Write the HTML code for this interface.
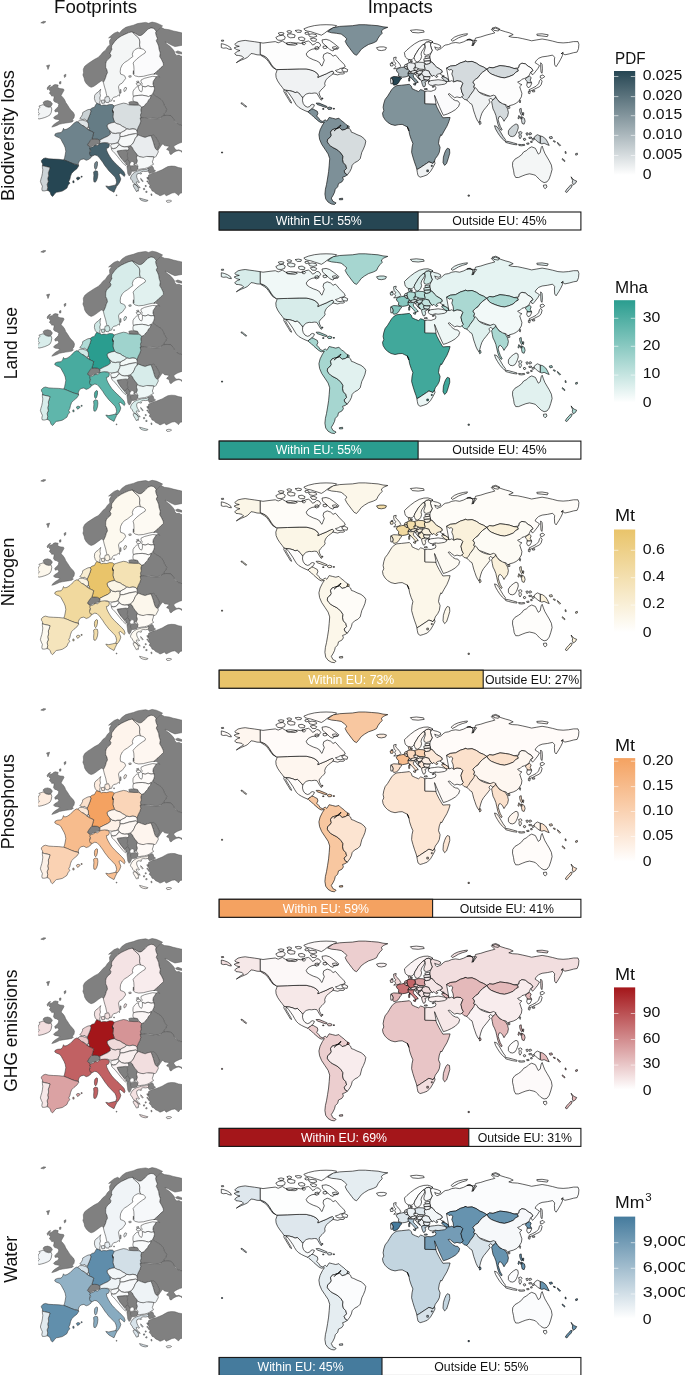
<!DOCTYPE html>
<html><head><meta charset="utf-8"><title>Footprints and impacts</title>
<style>
html,body{margin:0;padding:0;background:#fff;}
svg{display:block;font-family:"Liberation Sans",sans-serif;}
.g{fill:#808080;stroke:#555;stroke-width:.5;stroke-linejoin:round}
.c{stroke:#2c2c2c;stroke-width:.52;stroke-linejoin:round}
.w{stroke:#000;stroke-width:.62;stroke-linejoin:round}
.t{font-size:17.5px;fill:#111}
.lt{font-size:16px;fill:#111}
.tk{font-size:14.2px;fill:#111}
.bt{font-size:12.3px}
</style></head><body>
<svg width="685" height="1375" viewBox="0 0 685 1375">
<defs>
<clipPath id="ce"><rect x="38" y="20" width="144" height="184"/></clipPath>

<g id="eg" class="g">
<path d="M40.8,22.8 43.7,21.3 45.9,21.7 43.7,23.3Z"/>
<path d="M46.5,65.7 49.6,64.9 49.1,66.6 48.0,69.5 47.4,67.3Z"/>
<path d="M109.5,40.8 111.8,37.3 108.6,37.9 111.3,35.5 114.2,33.2 117.7,31.8 119.4,33.0 122.3,29.7 125.8,27.3 129.4,26.2 133.4,25.2 137.5,23.6 141.6,22.9 145.7,22.4 148.6,23.3 152.1,22.1 156.2,22.9 159.7,24.4 162.6,25.9 160.9,27.3 155.6,32.6 156.2,31.4 155.1,29.7 153.3,28.3 151.0,27.9 148.0,29.1 145.7,31.4 143.4,33.8 141.0,35.5 138.7,35.5 135.8,33.8 132.6,32.0 132.3,31.8 128.8,32.6 124.7,34.4 121.2,36.1 117.7,38.4 114.8,41.4 111.8,45.5 111.3,48.6 112.1,48.8 111.0,51.1 109.8,53.4 111.0,55.2 110.4,57.3 108.0,59.3 106.3,61.6 105.7,63.9 105.7,67.5 106.9,69.8 107.5,72.7 106.3,75.0 105.7,77.4 104.5,80.3 103.4,82.3 102.0,80.6 100.5,81.5 98.1,83.2 95.8,85.0 93.5,86.5 91.1,87.3 88.8,86.1 86.4,83.8 84.7,80.9 84.1,78.0 82.9,75.0 83.5,72.7 83.3,69.2 84.7,66.3 87.6,63.9 91.1,61.6 94.6,59.3 98.1,57.5 101.0,54.6 102.8,52.3 105.7,49.9 107.5,47.0 109.8,44.7Z"/>
<path d="M160.9,27.3 164.4,29.1 169.1,29.7 173.2,30.9 177.2,31.8 180.7,32.6 183.1,33.2 183.1,45.1 178.4,46.0 174.9,46.6 171.4,45.1 167.9,43.1 165.0,41.9 166.7,43.9 169.7,46.0 172.6,49.0 174.3,51.3 174.9,53.6 176.7,55.4 179.0,55.1 180.7,56.0 183.1,56.5 183.1,63.7 183.1,126.2 179.6,124.7 177.2,123.8 176.1,122.1 174.9,120.9 173.2,118.5 170.8,116.2 167.9,115.6 164.4,116.5 163.8,113.9 165.6,112.1 166.7,109.2 164.4,105.7 163.2,102.2 160.9,99.3 158.0,97.5 155.6,96.1 152.9,93.8 153.9,91.1 154.5,88.8 153.9,86.4 152.9,84.1 153.3,81.2 155.1,78.6 156.2,76.7 158.0,75.9 159.7,77.1 157.4,74.8 155.6,73.9 157.4,71.3 159.7,68.3 161.5,66.0 153.9,74.1 155.1,72.9 158.0,70.5 160.9,67.6 163.5,65.3 163.2,63.0 161.5,59.5 159.7,56.5 160.3,53.0 159.1,49.5 158.6,46.0 157.4,43.1 156.2,40.8 157.4,38.4 156.2,35.5 155.6,33.0 155.6,32.6ZM175.5,51.9 177.8,50.9 180.7,51.9 183.1,52.8 183.1,54.2 179.0,53.6 176.7,53.0ZM128.8,102.2 131.1,101.6 134.6,101.6 137.5,102.2 138.5,104.0 138.1,105.1 134.0,105.1 129.4,104.8Z"/>
<path d="M141.6,107.1 144.0,106.3 145.7,104.0 147.5,102.2 148.6,99.9 150.4,98.1 151.0,95.4 152.7,93.8 155.6,96.1 158.0,97.5 160.9,99.3 163.2,102.2 164.4,105.7 166.7,109.2 165.6,112.1 163.8,113.9 164.4,116.5 160.9,117.4 157.4,118.5 152.7,118.0 148.0,117.4 144.5,117.6 141.6,118.3 141.0,118.0 140.4,115.0 141.3,112.7 140.8,109.8Z"/>
<path d="M140.1,117.9 144.5,117.6 150.4,118.4 156.2,118.8 160.3,118.4 162.6,115.8 166.7,115.3 170.8,115.6 173.2,118.2 174.9,121.7 177.2,124.0 180.7,125.2 183.1,125.5 183.4,133.5 183.4,141.7 181.9,142.3 179.6,143.1 177.5,144.0 175.8,144.9 174.0,146.1 173.7,146.9 174.6,148.1 175.2,149.3 176.9,150.2 178.7,149.8 180.4,150.4 183.4,151.6 183.4,152.9 181.6,152.1 180.4,151.0 178.7,150.6 176.9,150.9 175.5,151.5 174.0,152.2 172.6,153.2 171.7,154.2 170.5,154.5 169.7,153.4 169.4,151.6 168.5,150.2 166.7,149.6 167.0,148.7 168.5,147.5 169.4,146.1 168.5,146.3 167.0,145.9 165.6,145.8 164.1,145.3 163.5,144.3 162.6,144.0 161.5,145.2 160.3,146.9 159.1,148.7 158.0,150.2 157.4,149.5 158.0,147.1 159.5,145.0 158.8,142.7 157.4,139.8 155.6,136.9 153.3,135.1 151.0,135.7 148.0,136.3 145.1,137.4 141.6,136.3 138.7,135.1 136.6,136.6 137.5,134.5 136.9,131.0 138.1,127.5 139.9,124.0 140.8,121.1Z"/>
<path d="M151.0,135.7 153.3,135.1 155.6,136.9 157.4,139.8 158.8,142.7 159.5,145.0 158.0,147.1 157.4,149.5 156.4,149.7 155.1,148.0 154.1,145.0 153.3,142.1 152.1,138.6Z"/>
<path d="M88.3,146.0 87.4,144.6 88.8,142.8 90.3,140.8 92.1,139.0 94.4,138.8 97.3,139.0 99.7,140.2 100.2,141.9 99.1,143.7 96.7,144.3 95.0,146.0 93.2,145.4 91.5,146.6 90.0,147.2Z"/>
<path d="M55.3,84.5 58.2,85.1 57.6,87.4 59.9,88.6 63.5,89.0 64.0,90.3 62.3,93.3 61.1,95.6 62.9,97.4 64.6,99.7 65.8,102.6 67.5,105.0 69.3,107.9 71.0,110.2 73.4,112.5 74.5,114.9 74.0,117.8 72.2,120.1 73.4,120.7 72.2,121.9 69.3,122.5 65.8,123.0 62.3,123.6 59.4,124.2 57.0,125.4 54.1,126.5 51.8,127.1 53.5,124.8 55.9,123.0 58.8,121.3 59.9,120.1 57.6,119.5 54.7,119.0 53.5,117.8 55.3,116.0 57.6,114.9 58.8,113.1 57.6,111.4 55.3,112.0 54.7,110.2 56.4,108.5 58.2,106.7 58.8,104.4 57.0,102.6 54.7,102.0 53.5,100.3 54.1,97.4 53.5,95.6 51.8,96.2 51.2,95.0 49.4,93.3 50.6,90.9 48.9,89.8 50.0,87.4 52.4,86.3 53.5,85.1ZM47.1,88.0 48.9,85.7 50.6,85.1 49.4,87.4 47.7,89.8ZM59.4,81.9 61.0,81.5 60.8,83.8 59.6,84.0ZM64.0,75.2 65.9,74.2 65.7,76.6 64.5,77.5ZM43.0,102.6 44.8,101.1 47.7,100.6 50.6,101.5 52.4,103.8 51.2,106.1 48.9,106.9 45.9,106.1 44.2,105.0Z"/>
<path d="M117.1,151.1 122.3,150.4 126.4,150.3 127.6,152.6 127.3,156.1 128.0,159.1 126.4,161.4 124.7,162.3 122.3,159.6 120.0,156.7 118.3,153.8Z"/>
<path d="M128.8,148.5 127.6,146.7 130.5,145.8 132.3,147.4 133.4,149.7 135.0,152.0 136.6,153.8 137.5,156.1 136.6,158.5 137.5,161.4 136.6,163.1 134.0,164.9 133.8,163.1 131.9,162.3 130.3,163.7 128.8,163.1 128.0,161.4 128.2,159.1 127.4,156.1 127.7,152.6 126.8,150.3 128.4,150.3Z"/>
<path d="M125.5,161.4 127.1,159.3 129.0,160.8 129.8,163.1 129.4,165.1 127.8,165.8 126.3,164.6Z"/>
<path d="M126.9,166.0 128.3,165.8 129.8,165.1 131.0,166.3 131.0,168.9 131.6,171.9 130.4,174.8 129.2,176.0 127.8,173.6 127.5,170.7 127.1,168.1Z"/>
<path d="M131.3,166.3 132.9,166.0 135.1,165.1 137.4,166.0 138.0,168.4 136.8,170.5 133.9,171.3 131.8,171.3 131.3,168.9Z"/>
<path d="M147.8,168.4 149.8,167.3 152.1,166.1 153.3,167.5 153.9,169.8 155.6,170.8 153.9,172.0 151.6,172.8 149.4,173.4 148.3,171.6 148.0,170.4ZM148.6,175.1 151.0,173.9 153.3,172.8 156.2,172.2 159.1,171.0 162.1,169.8 165.0,168.1 167.9,166.6 171.4,166.1 174.9,166.3 178.4,167.5 183.1,168.4 183.1,192.6 180.2,193.2 178.4,195.6 177.2,194.2 174.9,192.6 172.0,193.0 169.1,194.4 166.2,195.8 164.4,193.8 162.1,195.0 160.0,195.8 158.0,194.4 155.6,193.4 153.9,191.5 152.1,190.9 151.0,188.5 149.2,187.1 150.2,185.0 148.0,183.3 149.0,180.9 147.8,179.2 148.3,177.1Z"/>
</g>
<path id="eXK" d="M130.2,163.1 131.8,161.4 133.7,161.9 134.1,163.9 132.7,165.8 131.0,165.8 129.8,164.6Z"/>
<path id="eIE" d="M44.2,105.3 45.9,106.5 48.9,107.3 51.0,106.7 51.8,109.0 51.2,112.5 50.0,114.9 47.7,116.3 44.8,117.5 41.8,118.4 38.9,119.0 37.4,117.8 37.8,115.5 39.5,113.7 37.8,112.0 38.3,109.0 40.1,107.3 38.9,106.1 41.3,105.3 43.0,104.6Z"/>
<path id="eSE" d="M132.6,32.0 134.6,34.4 137.5,36.7 139.3,39.0 139.9,41.9 139.6,44.9 140.1,47.2 140.8,48.6 138.1,48.1 135.2,49.5 133.4,51.3 132.3,54.2 132.9,56.5 130.5,58.3 127.6,60.6 124.7,62.4 122.3,64.7 120.6,68.2 120.2,71.7 120.6,74.1 123.2,75.0 125.0,76.2 125.6,78.5 123.8,80.9 122.1,83.2 119.7,84.4 118.5,86.7 119.1,90.2 119.7,93.7 119.5,96.1 118.3,95.2 116.5,96.6 113.6,97.3 112.4,98.7 111.6,101.0 110.1,101.3 108.3,100.6 106.9,99.6 107.5,99.0 106.9,96.1 106.3,93.7 105.7,90.8 104.8,87.9 104.0,85.0 103.4,82.3 103.4,82.3 104.5,80.3 105.7,77.4 106.3,75.0 107.5,72.7 106.9,69.8 105.7,67.5 105.7,63.9 106.3,61.6 108.0,59.3 110.4,57.3 111.0,55.2 109.8,53.4 111.0,51.1 112.1,48.8 111.3,48.6 111.8,45.5 114.8,41.4 117.7,38.4 121.2,36.1 124.7,34.4 128.8,32.6 132.3,31.8ZM125.0,87.3 126.7,87.9 125.8,90.5 124.2,91.6 123.8,89.6ZM120.2,89.6 120.9,89.5 121.0,93.1 120.4,93.3Z"/>
<path id="eFI" d="M132.6,32.0 135.8,33.8 138.7,35.5 141.0,35.5 143.4,33.8 145.7,31.4 148.0,29.1 151.0,27.9 153.3,28.3 155.1,29.7 156.2,31.4 155.6,32.6 155.6,33.0 156.2,35.5 157.4,38.4 156.2,40.8 157.4,43.1 158.6,46.0 159.1,49.5 160.3,53.0 159.7,56.5 161.5,59.5 163.2,63.0 163.5,65.3 160.9,67.6 158.0,70.5 155.1,72.9 153.9,74.1 155.6,73.9 152.1,74.2 148.0,75.1 143.4,76.3 138.7,76.7 135.2,75.9 133.1,74.2 133.4,70.7 133.8,74.1 134.0,69.4 133.8,65.9 133.1,63.0 134.6,61.2 136.9,58.9 139.9,56.5 142.8,54.4 145.1,53.0 145.5,51.3 143.4,49.3 140.8,48.6 140.8,48.6 140.1,47.2 139.6,44.9 139.9,41.9 139.3,39.0 137.5,36.7 134.6,34.4 132.6,32.0ZM128.8,75.9 131.1,75.7 131.1,77.1 129.0,77.2Z"/>
<path id="eEE" d="M141.0,80.0 144.5,78.3 149.2,77.1 152.7,76.3 156.2,76.7 155.1,78.6 153.3,81.2 152.9,84.1 153.9,86.4 151.0,86.8 148.0,85.8 145.1,87.0 142.4,86.1 141.6,85.3 142.2,83.5 141.0,81.8ZM136.1,83.5 138.1,82.6 140.8,83.5 140.1,85.3 137.3,85.4ZM136.6,81.4 138.5,81.0 138.9,82.3 137.1,82.6Z"/>
<path id="eLV" d="M133.1,91.1 134.6,88.8 136.6,87.0 138.5,86.4 138.7,88.8 139.9,91.1 141.6,91.9 142.4,89.9 142.4,86.1 145.1,87.0 148.0,85.8 151.0,86.8 153.9,86.4 154.5,88.8 153.9,91.1 152.7,93.8 151.0,95.4 148.6,96.6 145.7,95.8 142.2,95.2 138.7,95.4 135.8,95.8 133.4,96.4 132.9,94.0Z"/>
<path id="eLT" d="M133.4,96.4 135.8,95.8 138.7,95.4 142.2,95.2 145.7,95.8 148.6,96.6 151.0,95.4 150.4,98.1 148.6,99.9 147.5,102.2 145.7,104.0 144.0,106.3 141.6,107.1 139.9,105.7 138.5,104.0 137.5,102.2 134.6,101.6 133.1,101.0 132.9,98.7Z"/>
<path id="ePL" d="M112.8,106.3 116.5,105.1 120.0,104.0 123.5,103.1 126.4,103.6 128.8,104.8 129.4,104.9 134.0,105.2 138.1,105.2 139.9,105.7 141.6,107.1 140.8,109.8 141.3,112.7 140.4,115.0 141.0,118.0 140.1,117.9 140.8,121.1 139.9,124.0 138.1,127.5 136.9,130.8 135.8,129.3 132.9,128.7 129.4,129.3 126.4,128.7 124.7,127.5 122.3,126.3 120.0,124.6 117.1,123.8 114.4,122.3 113.9,120.5 112.8,117.0 113.2,113.5 112.4,110.0 113.2,112.7 112.4,109.8Z"/>
<path id="eDE" d="M90.3,109.3 92.1,107.9 94.4,107.3 95.6,105.0 96.7,103.2 98.5,103.8 100.2,104.6 101.4,105.5 103.7,105.0 106.7,105.3 109.6,104.4 112.5,104.6 114.2,106.1 112.4,109.8 113.2,112.7 112.4,110.0 113.2,113.5 112.8,117.0 113.9,120.5 114.4,122.3 111.8,122.8 108.9,123.8 107.2,125.2 107.4,126.9 108.3,128.7 110.1,131.0 110.5,134.1 107.8,136.2 103.9,138.0 99.7,140.2 97.3,139.0 94.4,138.8 92.1,139.0 92.6,136.7 93.2,134.3 93.8,132.6 91.5,131.4 89.1,130.3 87.4,129.1 89.5,128.9 88.5,127.1 88.5,126.0 88.3,123.6 87.4,121.9 87.4,120.7 88.0,119.0 89.1,116.6 90.0,114.3 90.9,111.4Z"/>
<path id="eDK" d="M96.7,103.2 95.3,101.5 94.4,98.5 94.7,95.3 96.2,93.3 98.1,92.1 99.7,90.3 100.7,89.2 100.2,91.3 100.0,93.6 100.5,95.6 99.7,97.9 100.2,100.3 99.7,102.6 100.2,104.6 98.5,103.8ZM101.2,100.4 104.2,99.9 104.7,103.0 101.9,103.4ZM105.1,97.1 108.6,96.4 110.0,99.9 108.6,102.7 105.8,102.3 104.7,99.7ZM113.7,100.6 114.4,100.6 114.4,101.4 113.7,101.4Z"/>
<path id="eNL" d="M82.7,112.5 85.6,110.8 88.0,109.6 90.3,109.3 90.9,111.4 90.0,114.3 89.1,116.6 88.0,119.0 87.4,120.7 86.0,120.5 85.0,119.0 82.7,119.5 81.0,119.0 79.8,118.4 81.5,116.3 82.5,114.3Z"/>
<path id="eBE" d="M77.5,121.9 79.8,120.1 82.7,120.1 85.6,121.0 87.4,121.9 88.3,123.6 88.5,126.0 87.4,128.3 86.0,127.7 83.9,126.0 81.5,125.4 79.2,124.2Z"/>
<path id="eLU" d="M87.4,128.3 88.5,127.1 89.5,128.9 88.5,130.1Z"/>
<path id="eFR" d="M76.9,121.5 74.5,122.7 72.2,125.0 69.9,127.3 67.0,129.1 64.6,129.7 63.5,128.3 62.6,130.8 61.1,132.6 57.6,132.9 55.3,133.8 54.7,135.5 56.4,136.7 59.4,137.8 61.1,139.6 62.3,141.9 64.0,144.9 65.2,147.8 65.8,151.3 65.2,154.8 64.6,157.7 63.8,160.0 67.5,161.4 71.0,163.0 74.5,164.1 77.8,164.7 78.6,165.9 78.3,163.6 79.2,161.2 81.0,159.5 83.9,158.9 86.2,160.3 88.5,159.5 90.9,157.7 91.8,156.0 90.3,153.6 89.7,151.3 90.9,149.3 90.0,147.2 88.3,146.0 87.4,144.9 88.5,143.1 90.0,140.8 91.8,138.8 92.6,136.7 93.2,134.3 93.8,132.6 91.5,131.4 89.1,130.3 87.4,129.1 85.6,127.9 83.9,126.2 81.5,125.0 79.8,123.3 78.0,122.1ZM94.8,163.1 96.3,161.4 97.5,161.9 97.5,164.9 96.7,168.1 95.6,169.5 94.6,168.1 94.4,165.4Z"/>
<path id="eAT" d="M110.1,131.3 112.4,133.0 115.3,133.6 117.7,133.0 120.6,133.0 120.0,134.8 120.2,136.6 119.8,138.6 118.6,140.6 117.7,142.5 115.3,143.3 112.4,143.9 109.5,143.6 107.2,142.7 99.1,143.7 100.2,141.9 99.7,140.2 103.9,138.0 107.8,136.2 110.5,134.1Z"/>
<path id="eCZ" d="M107.2,125.2 108.9,123.8 111.8,122.8 114.4,122.3 117.1,123.8 120.0,124.6 122.3,126.3 124.7,127.5 126.4,128.7 125.3,130.4 122.9,131.6 120.6,132.8 117.7,132.8 115.3,133.4 112.4,132.8 110.1,131.0 108.3,128.7 107.4,126.9Z"/>
<path id="eSK" d="M120.6,132.8 122.9,131.6 125.3,130.4 126.8,128.9 129.4,129.4 132.9,128.9 135.8,129.4 136.9,131.0 137.5,134.5 135.8,133.6 132.9,133.9 129.4,134.5 126.4,135.5 123.5,136.3 120.2,136.6 120.0,134.5Z"/>
<path id="eHU" d="M120.2,136.6 123.5,136.5 126.4,135.7 129.4,134.8 132.9,134.2 135.8,133.6 137.5,134.5 136.6,136.6 135.2,138.6 134.0,141.5 132.6,143.9 130.5,145.6 127.6,146.4 124.7,146.8 121.8,146.2 119.4,144.4 118.3,142.7 118.8,140.6 119.8,138.6Z"/>
<path id="eSI" d="M111.8,144.1 115.3,143.5 117.7,142.9 118.8,144.4 117.7,146.4 115.9,148.0 113.6,148.5 111.3,148.0 110.7,145.6Z"/>
<path id="eHR" d="M111.3,148.3 113.6,148.8 115.9,148.2 117.9,146.4 119.4,144.8 121.8,146.4 124.7,147.0 127.6,146.7 128.8,148.5 128.2,150.3 125.8,149.9 122.3,150.3 119.4,150.6 117.1,151.1 118.3,153.8 120.0,156.7 122.3,159.6 124.7,162.6 126.4,164.9 125.3,165.5 122.9,163.1 120.0,159.6 117.7,156.7 115.3,153.8 113.2,151.5 111.8,150.3Z"/>
<path id="eRO" d="M136.6,136.6 138.7,135.1 141.6,136.3 145.1,137.4 148.0,136.3 151.0,135.7 152.1,138.6 153.3,142.1 154.1,145.0 155.1,148.0 156.4,149.7 158.0,150.3 158.3,152.0 157.4,153.8 156.2,156.1 155.1,157.3 152.1,156.7 148.6,156.5 145.1,157.7 141.6,157.3 138.7,156.5 137.3,155.0 136.6,153.8 135.0,152.0 133.4,149.7 132.3,147.4 130.5,145.8 132.6,143.9 134.0,141.5 135.2,138.6Z"/>
<path id="eBG" d="M137.4,155.5 139.7,156.7 143.2,157.3 146.7,156.4 150.2,156.7 153.7,156.9 153.2,159.6 152.3,161.9 153.5,164.3 151.4,165.4 149.1,167.0 147.3,167.8 144.4,168.6 141.5,168.9 138.6,169.5 137.6,168.1 138.0,166.0 136.4,163.7 137.4,160.8 136.4,157.8Z"/>
<path id="eGR" d="M130.4,178.0 131.5,175.5 132.9,173.7 134.8,172.2 136.9,171.1 139.5,170.4 141.7,169.7 144.2,169.5 146.8,169.3 148.3,168.2 148.8,169.7 147.9,171.1 145.7,171.5 143.5,171.3 141.7,171.8 140.6,172.6 141.7,173.7 140.2,174.0 139.1,173.3 138.0,173.7 136.9,174.4 136.6,175.8 136.9,177.7 137.7,179.5 138.6,181.0 139.5,182.4 138.4,182.6 137.3,181.7 136.2,182.1 136.9,183.9 138.0,185.3 139.1,186.4 140.2,187.9 138.8,187.5 137.3,186.4 136.2,185.3 135.3,184.2 134.0,183.5 132.9,182.4 132.2,180.6 131.1,179.5ZM133.3,184.6 135.1,184.4 136.9,185.6 138.0,187.2 138.6,189.4 138.3,191.2 137.5,190.4 136.9,191.9 136.2,191.2 135.3,189.5 134.2,187.8 133.3,186.1ZM139.5,198.1 141.3,198.5 143.5,199.2 146.1,199.9 147.9,200.3 147.5,201.0 145.3,201.4 142.8,200.9 140.6,199.9ZM140.6,178.4 141.9,179.5 143.2,181.3 142.4,181.6 141.2,180.2ZM151.0,193.8 151.9,194.2 151.8,195.6 151.1,195.3ZM146.9,177.4 148.3,177.6 148.0,178.7 147.0,178.5ZM146.9,180.9 147.7,180.9 147.7,182.1 147.0,182.0ZM143.4,188.5 144.5,188.3 144.8,189.5 143.6,189.7ZM145.1,185.6 146.1,185.4 146.3,186.4 145.4,186.7ZM145.7,191.5 146.9,191.1 147.1,192.3 145.9,192.5Z"/>
<path id="eCY" d="M166.2,200.9 168.0,200.2 170.5,200.3 171.6,201.0 169.8,202.1 167.2,202.3Z"/>
<path id="eIT" d="M90.1,155.5 89.5,153.2 90.7,150.8 89.5,148.5 91.3,147.3 93.0,146.8 95.3,145.2 97.7,145.6 99.4,143.8 101.8,142.9 104.7,142.7 107.6,143.3 109.4,144.4 109.1,146.4 108.2,147.9 106.4,148.3 106.8,150.8 108.2,153.8 109.9,156.7 111.9,159.6 114.6,162.5 117.0,164.9 119.3,167.0 121.6,169.3 124.0,171.9 125.1,174.8 124.3,176.5 122.4,174.8 120.5,173.3 118.9,174.2 119.9,176.5 120.8,178.9 119.9,181.8 118.5,184.1 117.0,185.9 115.8,184.7 116.6,182.2 116.1,179.5 115.0,177.1 113.1,175.1 111.1,173.0 108.8,170.7 106.8,168.1 104.7,165.4 102.9,162.5 101.2,160.2 99.4,157.8 97.1,155.5 94.8,154.9 92.4,156.1ZM105.8,185.9 108.8,186.5 112.3,185.7 115.8,184.9 116.6,186.5 115.2,189.4 114.0,192.3 111.7,191.1 108.8,189.4 107.0,187.6ZM93.6,171.9 95.3,170.7 97.5,171.3 97.9,174.2 97.5,177.7 96.5,180.6 95.3,182.2 93.9,181.8 93.6,178.9 93.9,175.4Z"/>
<path id="eES" d="M41.3,160.7 43.0,158.8 45.3,157.9 48.9,158.8 53.5,159.1 58.8,159.3 63.8,159.9 67.5,161.3 71.0,162.8 74.5,164.2 77.5,164.9 78.6,166.1 76.9,168.7 74.0,171.0 71.6,173.4 70.5,176.3 69.9,179.2 68.7,181.5 69.9,183.3 68.1,185.0 67.0,188.0 64.6,189.7 62.3,191.1 59.4,191.8 56.4,192.3 54.7,193.8 53.3,195.8 52.4,196.5 51.0,195.0 50.2,192.6 48.9,190.9 47.1,190.3 47.7,187.4 47.1,184.4 48.3,181.5 47.7,178.6 48.6,175.7 48.3,172.8 49.4,169.8 50.0,167.5 47.7,166.9 44.8,166.3 42.8,165.8 42.4,163.4 41.6,162.3ZM76.3,178.0 78.0,176.9 80.2,177.8 79.2,179.2 77.5,180.1ZM81.0,176.3 82.1,176.2 82.2,177.1 81.1,177.2ZM72.8,180.9 74.0,180.8 74.1,182.7 72.9,182.7Z"/>
<path id="ePT" d="M42.4,165.2 42.8,165.8 44.8,166.3 47.7,166.9 50.0,167.5 49.4,169.8 48.3,172.8 48.6,175.7 47.7,178.6 48.3,181.5 47.1,184.4 47.7,187.4 47.1,190.3 44.8,190.9 42.4,190.9 41.8,189.1 42.4,186.2 41.3,183.9 40.4,181.5 40.9,179.2 41.8,176.3 42.4,173.4 42.8,169.8 42.4,167.5Z"/>
<path id="eMT" d="M116.1,195.0 116.8,194.8 117.0,195.6 116.2,195.7Z"/>
<path id="wUS" d="M234.7,44.3 238.0,41.7 241.9,40.8 245.2,40.4 249.2,41.0 254.4,41.7 260.3,42.6 260.3,54.4 263.0,55.5 265.6,56.8 267.6,58.8 269.5,61.4 271.5,64.7 273.5,67.3 276.1,69.3 272.8,67.6 270.8,64.9 268.6,61.8 266.5,59.1 264.3,57.5 260.3,55.0 257.0,54.8 253.8,53.9 251.1,53.5 249.4,55.5 247.2,57.5 244.6,58.8 241.3,60.1 238.7,61.4 236.3,62.7 240.6,59.4 243.6,57.8 241.9,56.1 238.7,55.5 236.0,55.2 234.7,53.5 237.3,51.5 240.0,50.5 236.7,49.6 234.1,47.9 236.7,46.9 239.3,46.3 236.0,45.6ZM277.0,69.6 287.5,69.3 299.2,68.9 306.2,68.9 310.3,69.8 313.8,71.0 316.7,72.8 318.5,75.1 317.9,77.4 320.2,76.3 323.1,75.1 326.1,73.9 329.0,72.4 330.7,71.6 332.5,71.0 333.6,72.2 333.1,73.9 330.7,75.7 328.4,77.4 326.6,79.2 325.5,80.9 324.7,83.3 325.1,85.6 323.7,87.4 322.0,89.1 320.2,90.9 319.1,92.6 319.6,95.0 320.8,97.3 322.0,99.6 321.1,100.2 319.6,97.9 317.9,95.0 316.7,93.2 314.4,93.0 311.5,93.4 309.1,93.2 306.2,94.1 304.4,95.5 303.3,97.3 302.7,97.9 301.5,96.1 299.2,93.8 297.4,92.0 295.1,92.6 292.8,91.5 289.3,90.6 285.8,90.3 284.0,89.9 282.3,87.4 279.9,84.4 277.6,80.9 276.1,77.4 275.8,73.9 276.8,71.0ZM241.2,102.8 242.6,103.2 244.2,104.6 246.6,106.4 246.2,107.2 243.8,105.6 242.2,104.2 241.0,103.6Z"/>
<path id="wCA" d="M260.3,42.6 263.0,43.1 270.0,42.2 275.3,41.6 278.2,42.8 282.3,41.0 285.2,42.8 288.7,44.5 293.4,43.9 297.4,42.8 300.9,43.4 303.9,42.8 305.6,41.6 308.5,41.0 310.9,42.8 312.6,45.1 315.0,43.9 316.7,42.2 319.1,42.8 320.8,45.1 319.1,47.5 316.1,48.6 312.0,49.2 308.5,51.0 306.2,53.9 307.1,56.2 309.7,58.0 313.2,59.7 316.7,60.9 319.6,62.6 320.8,65.0 322.0,66.1 323.1,63.2 324.3,60.3 323.1,57.4 323.7,54.5 327.2,52.7 330.7,53.9 333.1,56.2 335.4,55.0 337.1,56.8 339.5,59.7 341.8,62.0 344.2,64.4 345.3,66.7 343.0,67.9 340.1,68.5 338.3,69.6 335.4,70.5 337.1,72.0 340.1,72.5 342.4,72.0 344.7,72.8 343.6,74.0 340.1,74.0 337.7,74.9 333.1,73.9 333.6,72.2 332.5,71.0 330.7,71.6 329.0,72.4 326.1,73.9 323.1,75.1 320.2,76.3 317.9,77.4 318.5,75.1 316.7,72.8 313.8,71.0 310.3,69.8 306.2,68.9 299.2,68.9 287.5,69.3 277.0,69.6 276.1,69.3 273.5,67.3 271.5,64.7 269.5,61.4 267.6,58.8 265.6,56.8 263.0,55.5 260.3,54.4ZM341.8,68.8 344.7,68.1 347.7,69.6 347.1,72.0 344.2,71.6 342.4,70.8ZM322.0,39.9 326.1,39.3 329.6,40.4 333.1,42.8 336.0,45.1 338.9,47.5 337.7,49.2 334.8,48.6 333.1,51.0 330.1,49.8 327.8,47.5 324.9,45.1 322.6,42.8ZM303.9,28.8 308.5,27.0 314.4,25.6 320.2,24.9 326.1,24.7 331.9,24.9 336.6,25.6 334.8,27.6 330.7,28.8 327.2,31.1 324.3,33.4 321.4,35.2 317.9,34.0 314.4,32.9 310.9,31.7 307.4,31.1 305.0,30.3ZM275.8,37.5 278.8,35.8 282.9,35.2 285.2,36.9 284.6,39.3 281.1,40.4 277.6,40.1ZM278.2,33.1 281.1,32.4 284.0,33.1 283.4,34.6 279.9,35.0ZM286.9,31.2 289.3,30.5 291.6,31.4 291.0,32.9 288.1,32.9ZM295.1,30.5 298.6,30.0 301.5,30.7 300.9,32.3 297.4,32.4ZM287.5,34.2 291.0,33.8 295.1,35.0 294.5,37.5 290.4,37.8 287.8,36.6ZM298.6,37.5 302.1,37.0 305.0,38.5 304.4,40.4 300.6,40.5 298.7,39.4ZM302.1,42.2 304.4,42.0 305.6,43.4 304.4,44.8 302.5,44.3ZM286.4,42.9 290.4,42.4 295.1,42.9 297.4,44.1 295.1,45.2 290.4,45.0 286.9,44.5ZM308.5,34.6 312.0,33.8 316.1,34.6 316.7,36.4 313.2,37.3 309.7,36.6ZM310.3,38.7 313.8,38.1 316.7,39.3 315.6,41.3 312.0,41.0ZM315.0,47.1 317.9,46.6 319.1,48.6 316.7,49.8 315.0,49.0ZM323.1,46.3 326.1,45.9 327.2,47.8 324.9,48.7 323.1,48.0ZM332.5,47.1 335.4,46.6 337.7,48.0 335.4,49.4 333.1,49.0ZM305.0,32.6 308.0,32.1 309.1,33.5 306.8,34.5 305.0,33.8Z"/>
<path id="wMX" d="M302.7,97.9 302.5,100.8 303.3,103.7 305.0,106.0 307.4,107.2 309.7,106.6 310.9,104.9 312.6,104.3 314.4,104.9 313.8,106.6 312.6,108.2 311.5,109.0 310.3,110.1 309.1,110.7 308.0,111.9 305.0,110.7 301.5,109.0 298.6,107.2 296.3,104.9 294.5,102.0 292.8,99.0 290.8,96.1 288.7,93.2 286.4,90.6 285.8,92.6 287.5,95.5 289.3,98.5 291.0,101.4 291.6,103.1 290.4,102.5 288.7,99.6 286.9,96.7 285.2,93.8 283.8,91.5 284.0,89.9 285.8,90.3 289.3,90.6 292.8,91.5 295.1,92.6 297.4,92.0 299.2,93.8 301.5,96.1Z"/>
<path id="wWL" d="M308.0,111.9 309.1,110.7 310.3,110.1 311.5,109.0 313.2,109.0 315.0,110.1 317.3,111.3 317.9,113.6 316.7,116.0 318.8,118.2 320.4,120.6 322.8,121.4 325.2,119.8 326.8,121.1 329.2,117.4 332.4,118.2 335.7,119.0 338.9,118.2 341.3,120.6 343.7,122.2 346.1,124.6 347.7,125.6 347.2,128.1 345.3,129.4 342.1,130.2 339.7,127.8 336.5,128.6 334.1,131.0 340.9,125.0 340.1,126.6 337.7,128.2 334.5,129.0 332.1,129.8 330.5,132.2 331.3,135.4 329.7,137.8 327.6,139.4 327.3,141.9 328.9,144.3 330.5,145.9 332.9,147.5 336.1,149.1 338.5,150.7 340.9,153.1 343.0,156.3 342.6,159.5 343.4,162.7 345.8,165.2 346.6,168.4 344.2,170.8 345.0,173.2 347.4,174.8 345.0,176.4 342.6,177.2 343.4,179.6 341.8,182.0 338.5,183.6 337.7,186.8 335.3,189.2 334.5,192.4 332.9,195.7 331.3,198.1 332.9,201.3 336.1,202.9 334.5,204.5 331.3,204.0 328.1,202.1 325.7,198.9 324.9,194.1 325.4,189.2 326.5,184.4 327.6,178.0 328.6,171.6 329.2,165.2 329.7,158.7 328.1,153.9 324.9,149.1 321.7,144.3 319.6,139.4 318.9,134.6 320.1,129.8 322.5,125.0 324.4,122.2 321.2,122.7 318.8,121.4 313.8,117.1 311.5,114.8 309.1,113.0ZM327.6,31.6 333.2,27.6 339.6,26.4 346.0,26.0 352.4,25.7 358.9,24.7 365.3,24.7 371.7,25.2 378.1,25.7 383.0,26.8 387.8,27.3 383.8,28.9 381.4,30.9 382.2,33.3 379.8,35.7 378.1,38.1 376.5,41.3 373.3,42.9 368.5,44.5 364.5,46.9 361.3,49.3 358.9,52.5 356.5,55.3 354.1,54.1 351.6,50.9 349.2,47.7 346.8,44.5 345.2,41.3 346.8,38.9 344.4,36.5 341.2,34.1 336.4,33.3 331.6,32.8ZM316.1,103.1 319.1,103.1 322.0,104.3 324.9,105.5 327.2,106.6 326.1,107.5 323.1,106.6 320.2,105.5 317.3,104.6ZM327.2,107.8 329.6,107.0 331.9,107.8 331.3,109.3 328.4,109.5ZM322.6,108.6 324.0,108.6 324.0,109.3 322.6,109.3ZM333.1,108.4 334.5,108.4 334.5,109.1 333.1,109.1ZM322.0,97.9 322.9,98.1 322.8,99.0 322.1,98.8ZM339.3,198.6 342.6,198.2 342.7,199.7 339.5,199.8Z"/>
<path id="wBR" d="M347.4,174.8 345.0,173.2 344.2,170.8 346.6,168.4 345.8,165.2 343.4,162.7 342.6,159.5 343.0,156.3 340.9,153.1 338.5,150.7 336.1,149.1 332.9,147.5 330.5,145.9 328.9,144.3 327.3,141.9 327.6,139.4 329.7,137.8 331.3,135.4 330.5,132.2 332.1,129.8 334.5,129.0 337.7,128.2 340.1,126.6 340.9,125.0 334.1,131.0 336.5,128.6 339.7,127.8 342.1,130.2 345.3,129.4 347.2,128.1 348.8,128.1 350.6,129.8 351.4,132.2 353.8,133.0 357.0,134.6 361.0,136.2 364.2,138.7 365.8,141.1 365.0,145.1 363.4,149.1 361.8,152.3 361.0,155.5 360.2,158.7 357.8,161.1 354.6,162.7 352.2,165.2 351.4,168.4 349.8,171.6Z"/>
<path id="wGF" d="M347.7,125.6 349.3,126.5 348.8,128.1 347.2,128.1Z"/>
<path id="wWF" d="M394.3,86.9 396.9,85.6 401.5,85.2 406.1,84.7 409.4,84.3 411.4,86.3 412.0,88.6 415.3,90.2 418.6,91.5 420.6,89.6 422.6,90.2 424.9,91.5 424.9,103.4 435.4,103.4 437.0,107.3 439.0,111.2 440.9,114.5 442.9,117.8 446.9,117.5 450.1,117.5 448.8,121.8 446.9,126.3 444.2,130.9 441.6,135.6 440.9,134.6 439.3,138.6 438.5,143.4 440.1,147.4 439.3,152.3 437.7,155.5 435.3,158.7 434.5,161.1 432.9,163.5 431.3,162.7 428.9,161.9 426.5,163.5 424.1,165.1 421.7,166.7 419.3,168.3 416.9,169.6 416.1,166.7 414.4,161.9 412.9,157.1 411.6,152.3 412.0,147.4 412.9,143.4 411.2,139.4 409.6,134.6 408.8,129.8 407.2,126.6 408.8,130.9 407.4,127.0 404.8,125.7 402.2,124.4 398.9,124.6 395.0,125.4 391.0,124.4 387.7,122.4 385.1,119.8 383.1,116.5 382.5,113.2 383.8,110.6 383.1,107.3 383.8,103.4 385.1,99.4 387.7,96.1 389.7,92.8 391.7,89.6ZM447.4,148.2 449.5,149.1 449.8,153.1 448.2,158.7 446.6,163.5 444.6,165.4 443.0,162.7 443.4,157.1 444.6,153.1 445.8,150.3Z"/>
<path id="wZA" d="M416.9,169.6 419.3,168.3 421.7,166.7 424.1,165.1 426.5,163.5 428.9,161.9 431.3,162.7 432.9,163.5 434.5,161.1 435.0,163.5 432.9,167.5 430.5,171.5 427.3,174.8 423.3,176.3 420.1,177.2 418.0,175.6 417.3,172.3Z"/>
<path id="wLS" d="M426.8,169.9 428.4,169.9 428.4,171.7 426.8,171.7ZM431.3,165.3 432.3,165.3 432.3,166.4 431.3,166.4Z"/>
<path id="wWM" d="M424.9,91.5 427.8,91.0 431.1,91.3 433.3,90.5 435.3,89.8 436.0,87.8 434.7,85.8 436.2,84.1 445.8,81.9 447.8,81.0 449.8,81.5 451.8,80.6 453.7,81.9 457.0,80.6 460.9,81.2 462.9,83.2 461.0,88.0 461.8,92.0 463.4,95.3 461.8,96.9 460.2,97.7 457.0,96.9 454.6,97.7 451.4,95.3 449.8,93.7 448.2,94.1 450.6,96.9 453.0,99.3 455.4,100.6 457.8,100.9 459.7,103.3 458.6,106.5 455.4,109.7 451.4,112.1 447.4,114.0 443.4,115.3 441.8,112.1 439.3,106.5 436.9,100.9 434.5,95.3 436.1,104.1 424.9,103.8 424.9,92.0Z"/>
<path id="wTR" d="M428.4,81.8 430.8,80.6 434.6,80.2 438.1,79.7 441.7,80.2 445.3,81.0 446.8,82.8 444.5,84.2 441.2,84.7 438.1,85.1 435.3,84.7 432.5,85.5 429.8,85.1 428.4,83.6ZM427.7,80.3 429.1,79.7 429.6,81.2 428.1,81.4Z"/>
<path id="wRU" d="M432.0,42.2 433.8,43.3 437.3,44.1 440.4,45.5 440.8,47.2 438.6,48.1 436.0,47.6 434.7,46.8 435.6,49.0 436.9,50.3 439.1,49.4 441.2,48.5 443.2,46.4 445.2,45.1 448.5,44.5 451.8,43.1 455.7,42.5 459.6,43.1 463.6,41.8 466.2,40.5 468.8,39.2 471.5,39.9 474.1,42.5 473.0,45.8 474.8,43.1 476.7,40.5 466.8,39.9 470.3,39.0 472.9,41.6 472.0,46.0 474.1,42.5 475.5,38.1 480.8,36.9 486.0,35.2 491.3,33.8 494.8,32.9 491.3,29.4 495.7,28.1 500.9,30.3 505.3,31.7 509.7,32.9 513.2,34.6 508.8,36.4 512.3,37.3 517.6,37.6 522.8,38.7 528.1,39.9 531.6,40.8 536.8,39.9 542.1,39.0 547.3,39.9 552.6,41.1 557.9,42.5 563.1,42.9 568.4,42.5 573.6,41.6 578.0,41.6 578.9,44.3 578.5,48.6 577.1,52.1 573.6,52.7 569.2,53.9 564.9,54.8 562.2,53.0 561.0,53.9 563.1,52.1 562.4,55.7 560.7,59.2 558.7,62.7 556.1,66.7 554.7,64.9 554.4,60.0 554.7,57.4 552.6,55.1 547.3,56.2 542.1,56.9 538.6,58.3 536.0,60.9 535.1,62.7 537.7,64.4 539.5,65.6 537.7,68.8 536.0,70.9 534.2,73.2 532.5,74.9 530.7,72.0 533.0,70.5 531.2,67.9 528.1,66.2 525.4,63.9 521.9,63.2 519.3,64.9 519.0,67.0 517.6,67.9 514.0,68.5 509.7,67.0 505.3,66.2 500.0,65.6 496.5,66.7 493.0,67.9 489.5,67.4 486.9,69.2 483.4,67.0 479.9,65.6 476.4,63.2 472.0,61.4 467.6,61.8 465.0,60.9 464.9,61.5 460.3,62.9 455.7,65.5 450.4,66.1 446.5,68.1 448.9,81.1 447.8,79.0 445.3,77.5 442.2,76.5 444.3,76.0 441.2,74.9 440.0,73.6 442.2,72.2 441.7,70.3 439.4,68.8 436.6,67.1 434.6,65.2 433.0,63.0 430.8,61.7 430.5,60.6 429.8,57.9 430.0,55.5 431.0,53.0 432.2,50.4 431.2,47.9 430.5,45.3 430.8,43.0 433.0,41.9ZM451.1,39.9 454.4,37.2 458.3,35.5 463.6,34.2 467.5,33.7 466.9,35.0 462.3,36.3 458.3,37.9 455.0,39.9 452.4,41.2ZM540.7,62.7 542.1,64.4 542.4,68.8 542.1,73.2 541.0,72.3 540.7,67.0ZM221.3,43.6 224.2,44.3 227.5,45.6 230.5,47.6 231.4,49.6 228.8,49.2 226.2,47.9 223.5,48.2 221.3,47.6ZM492.1,28.1 495.7,27.1 499.7,28.9 498.3,31.0 493.9,30.3ZM536.8,34.1 542.1,33.8 548.2,34.8 547.3,36.6 541.2,35.9 537.2,35.5ZM221.4,40.2 223.5,40.1 223.7,41.1 221.6,41.3ZM427.2,61.5 429.0,61.3 429.1,62.4 427.5,62.5Z"/>
<path id="wWE" d="M425.1,63.7 426.4,64.2 429.8,63.4 430.8,61.7 433.0,63.0 434.6,65.2 436.6,67.1 439.4,68.8 441.7,70.3 442.2,72.2 440.0,73.6 437.6,74.2 436.1,75.5 437.9,76.3 436.9,77.5 435.3,76.7 433.9,75.2 432.0,76.5 431.5,75.2 430.0,73.9 428.9,71.1 425.7,70.1 424.6,69.8 424.9,68.3 424.3,65.8ZM418.2,75.5 419.9,75.5 420.8,74.2 421.8,73.6 422.4,74.6 423.8,76.3 423.8,78.3 424.9,79.8 423.0,80.2 421.6,81.1 420.6,80.0 419.2,78.0 418.3,77.0Z"/>
<path id="wIS" d="M376.5,47.7 379.8,46.9 383.8,46.9 386.5,47.7 385.4,49.8 381.4,50.6 378.1,50.1Z"/>
<path id="wNO" d="M404.9,55.5 404.4,52.5 407.0,49.9 410.6,46.8 414.6,43.8 419.2,41.2 423.8,39.9 427.9,39.7 431.0,40.7 433.0,41.9 431.0,42.8 428.9,41.7 426.4,42.2 424.3,43.8 422.3,45.3 420.2,47.4 418.2,49.9 416.7,52.5 415.1,55.0 414.1,57.6 412.1,59.6 409.5,59.9 407.0,58.6 405.4,57.1ZM410.4,30.3 416.3,29.7 423.5,30.5 424.2,32.1 418.2,32.9 412.3,32.4Z"/>
<path id="wGB" d="M393.7,57.6 396.2,57.1 395.7,59.6 397.8,61.7 399.8,64.2 400.8,66.3 399.3,67.8 396.2,68.5 393.7,68.8 395.7,66.8 394.7,65.2 395.7,63.2 394.2,61.7 393.7,59.6ZM391.3,62.4 392.8,62.2 393.0,63.4 391.7,63.7Z"/>
<path id="wCH" d="M408.0,71.6 410.6,71.4 411.1,72.6 408.7,73.2Z"/>
<path id="wSE" d="M414.1,57.6 415.1,55.0 416.7,52.5 418.2,49.9 420.2,47.4 422.3,45.3 424.3,44.0 424.9,46.3 423.6,48.9 421.8,51.4 421.0,54.0 421.6,56.5 420.8,59.1 419.2,61.1 417.2,62.0 415.4,61.1 414.6,59.3Z"/>
<path id="wFI" d="M424.6,44.0 426.4,42.3 428.9,41.9 430.8,43.0 430.5,45.3 431.2,47.9 432.2,50.4 431.0,53.0 428.9,54.5 426.4,55.2 424.3,54.5 423.8,52.5 424.6,49.9 425.4,47.4 425.1,45.3Z"/>
<path id="wEE" d="M424.9,56.5 429.4,55.8 429.8,57.9 425.4,58.6Z"/>
<path id="wLV" d="M423.8,58.9 425.4,58.6 429.8,58.1 430.5,60.6 426.9,60.9 424.0,61.1Z"/>
<path id="wLT" d="M424.0,61.4 427.1,61.1 430.5,60.9 429.8,63.4 426.4,64.2 424.3,63.2Z"/>
<path id="wPL" d="M414.8,63.0 418.7,62.2 423.0,62.4 425.1,63.7 424.3,65.8 424.9,68.3 423.6,69.8 420.8,69.5 417.7,69.1 415.4,67.8Z"/>
<path id="wDE" d="M407.0,63.7 409.5,62.7 412.1,63.0 414.6,63.4 415.4,65.8 414.4,68.1 415.4,69.8 413.1,71.4 410.6,71.6 408.5,70.3 407.5,68.1 406.8,66.0Z"/>
<path id="wDK" d="M408.3,60.1 410.0,59.3 410.6,61.7 409.3,63.0ZM411.0,60.9 412.2,60.7 412.2,62.2 411.1,62.3Z"/>
<path id="wNL" d="M404.9,64.7 406.8,64.0 407.1,66.0 405.9,66.8 404.4,66.3Z"/>
<path id="wBE" d="M403.9,66.8 405.9,66.8 407.3,66.8 407.7,68.8 405.9,69.1 404.4,68.1Z"/>
<path id="wIE" d="M390.1,63.7 391.9,63.2 393.4,64.4 392.7,66.0 390.6,66.0Z"/>
<path id="wFR" d="M396.2,69.8 398.8,68.1 401.4,67.5 403.9,67.1 405.9,69.1 408.0,69.3 409.3,70.8 408.0,72.9 408.7,74.9 407.7,76.3 404.9,77.0 402.4,77.3 400.3,76.7 398.3,76.0 398.8,73.4 397.1,71.9ZM409.5,76.5 410.2,76.5 410.2,78.0 409.6,78.0Z"/>
<path id="wES" d="M391.1,77.5 393.7,76.5 397.3,76.7 400.3,77.3 401.9,78.3 400.3,79.7 399.3,81.6 398.1,83.4 396.2,84.7 393.7,85.2 392.7,83.6 393.0,81.1 392.4,79.0Z"/>
<path id="wPT" d="M390.6,78.0 392.4,79.0 393.0,81.1 392.7,83.6 390.9,83.8 390.6,81.1Z"/>
<path id="wIT" d="M408.0,73.2 410.6,73.6 413.1,73.4 414.4,74.4 413.1,75.5 413.8,77.3 415.7,79.3 417.5,81.1 418.2,82.6 416.7,82.4 415.9,83.6 414.8,82.1 413.4,80.4 411.6,78.5 410.0,76.7 408.3,76.0ZM413.4,83.8 415.9,83.4 415.4,85.2 413.8,84.8ZM408.7,78.0 409.7,78.0 409.7,81.1 408.7,81.1Z"/>
<path id="wAT" d="M411.1,72.4 411.4,71.2 415.4,70.3 416.5,71.9 414.1,73.2 411.4,73.2Z"/>
<path id="wCZ" d="M413.6,68.3 416.7,67.8 418.7,68.9 416.7,70.3 414.4,70.1Z"/>
<path id="wSK" d="M418.7,69.1 423.3,69.3 422.8,70.8 419.5,70.7 416.7,72.0 416.7,70.5Z"/>
<path id="wHU" d="M416.7,72.0 419.5,70.7 422.8,71.1 421.8,73.4 418.9,74.4 417.1,73.6Z"/>
<path id="wSI" d="M414.1,73.2 416.5,72.4 417.0,73.6 415.4,74.4Z"/>
<path id="wHR" d="M415.4,74.4 417.1,73.6 418.9,74.4 420.8,74.2 419.9,75.5 417.9,75.2 418.2,77.3 420.2,79.7 418.9,79.0 416.9,76.7Z"/>
<path id="wRO" d="M422.8,71.1 425.7,70.1 428.9,71.1 430.0,73.9 431.5,75.2 430.0,76.7 426.7,76.7 423.8,76.3 422.3,74.4 421.8,73.4Z"/>
<path id="wBG" d="M423.8,76.5 426.7,76.9 430.0,76.9 429.6,79.0 427.7,80.0 424.9,79.8 423.8,78.3Z"/>
<path id="wGR" d="M421.6,81.1 423.0,80.2 425.1,80.0 427.7,80.3 426.3,81.6 424.9,82.0 425.7,84.1 424.9,86.5 423.4,86.9 422.4,84.7 421.8,82.8ZM424.3,88.7 427.1,88.5 427.3,89.5 424.6,89.7Z"/>
<path id="wCY" d="M432.2,86.5 434.2,86.1 434.1,87.1 432.4,87.3Z"/>
<path id="wWA" d="M446.5,68.1 450.4,66.1 455.7,65.5 460.3,62.9 464.9,61.5 465.0,60.9 467.6,61.8 472.0,61.4 476.4,63.2 479.9,65.6 483.4,67.0 486.9,69.2 485.1,70.5 482.5,72.3 479.9,74.9 478.1,77.6 475.5,79.3 472.9,81.9 474.6,84.6 473.8,87.2 475.8,87.2 474.7,90.0 472.3,92.5 470.7,95.3 469.4,98.5 467.4,100.1 464.2,99.3 461.8,96.9 463.4,95.3 461.8,92.0 461.0,88.0 462.9,83.2 460.9,81.2 457.0,80.6 453.7,81.9 453.1,77.3 451.8,74.0 452.8,70.7 451.1,69.4 449.1,70.1 447.8,68.8ZM486.9,69.2 489.5,67.4 493.0,67.9 496.5,66.7 500.0,65.6 505.3,66.2 509.7,67.0 514.0,68.5 517.6,68.8 518.4,70.9 515.8,72.3 513.2,74.9 508.8,76.7 504.4,77.9 500.0,77.2 495.7,75.8 491.3,74.0 488.6,72.0ZM442.2,76.5 445.3,77.5 447.8,79.0 448.9,81.1 447.3,81.6 445.3,81.0 443.8,79.5 441.7,78.0ZM491.6,101.6 493.8,98.7 495.9,96.5 497.4,99.4 499.6,102.3 502.5,103.0 505.4,105.2 507.6,108.9 508.4,112.5 507.6,116.2 505.4,119.1 504.0,121.3 502.5,118.4 500.3,116.2 498.9,116.9 498.1,119.8 499.3,123.5 500.3,126.4 502.2,129.7 501.1,130.3 499.3,127.8 497.9,124.2 496.7,119.1 495.9,115.4 494.5,111.8 493.0,108.9 492.3,105.2ZM526.3,77.6 529.5,76.2 531.2,77.6 530.2,80.2 531.6,82.8 527.2,82.8 527.2,81.4 525.4,79.7ZM519.7,108.9 521.2,108.4 521.5,111.8 522.7,114.7 521.5,115.4 520.3,113.2 519.7,111.1ZM522.2,116.9 524.4,118.4 525.1,121.3 524.1,124.2 522.2,123.5 521.5,120.5ZM540.2,135.9 542.7,136.6 545.6,138.8 547.0,141.0 549.2,145.4 547.0,144.6 544.1,143.2 541.9,143.9 540.2,143.2ZM549.2,137.0 551.9,136.5 552.5,138.2 550.0,138.8ZM571.1,176.8 572.6,178.9 574.8,180.4 576.7,181.1 575.5,183.3 573.3,184.8 572.3,182.6 572.6,180.4ZM572.3,185.2 571.1,187.7 568.9,189.9 566.8,192.5 565.3,191.6 566.8,189.2 568.9,187.0 570.8,184.8ZM479.0,121.8 480.6,121.4 481.1,123.7 479.6,124.6ZM553.6,140.6 555.4,141.4 555.1,142.3 553.3,141.4ZM468.0,195.0 469.4,195.0 469.4,196.2 468.0,196.2ZM221.5,152.0 222.6,152.0 222.6,153.0 221.5,153.0ZM520.3,116.9 521.5,116.6 521.8,118.4 520.8,119.1ZM522.7,112.5 523.8,112.8 523.5,115.4 522.7,114.8ZM518.9,115.4 519.7,116.9 518.6,119.1 518.0,118.1ZM557.3,142.4 559.2,143.8 560.6,145.4 559.7,145.8 558.0,144.3ZM562.4,158.5 565.0,160.7 564.7,161.6 562.1,159.5ZM565.0,151.6 565.9,151.6 566.2,153.4 565.3,153.4ZM575.5,153.7 577.3,153.1 577.5,154.6 575.8,155.2Z"/>
<path id="wCN" d="M486.9,69.2 488.6,72.0 491.3,74.0 495.7,75.8 500.0,77.2 504.4,77.9 508.8,76.7 513.2,74.9 515.8,72.3 518.4,70.9 517.6,68.8 519.0,67.0 519.3,64.9 521.9,63.2 525.4,63.9 528.1,66.2 531.2,67.9 533.0,70.5 530.7,72.0 529.0,75.8 526.3,77.6 524.6,78.4 521.9,79.3 520.2,81.1 517.6,81.9 519.3,83.7 521.9,84.6 519.7,86.7 520.7,89.8 521.9,93.3 521.4,96.8 519.3,100.3 516.7,103.0 513.2,104.7 509.7,105.6 507.9,107.0 506.2,104.7 502.7,103.8 500.0,102.1 497.4,99.5 495.7,96.8 493.0,96.0 490.4,96.5 486.9,95.1 483.4,93.7 479.9,92.5 476.4,90.2 473.8,87.2 474.6,84.6 472.9,81.9 475.5,79.3 478.1,77.6 479.9,74.9 482.5,72.3 485.1,70.5ZM507.9,106.5 509.7,106.3 509.9,108.2 508.1,108.4Z"/>
<path id="wIN" d="M466.7,99.8 468.5,98.0 470.2,95.1 472.0,92.8 473.7,90.4 474.9,87.5 476.6,88.7 478.4,91.6 480.7,93.4 483.6,94.8 487.1,95.9 490.1,96.3 493.6,95.1 495.9,96.3 494.7,98.6 492.4,99.8 490.7,98.0 488.9,99.8 490.1,102.1 488.3,104.5 486.0,107.4 483.6,110.3 481.9,113.2 480.7,116.7 479.8,120.2 479.0,122.5 477.8,121.4 476.1,117.9 474.9,114.4 473.7,110.9 472.8,107.4 472.0,104.5 470.2,103.3 468.8,102.1Z"/>
<path id="wKR" d="M527.2,82.8 531.6,82.8 531.6,83.7 530.2,86.7 528.1,87.7 526.7,85.4Z"/>
<path id="wJP" d="M540.3,75.8 543.0,74.9 544.7,76.7 542.1,78.4 540.3,77.9ZM540.7,79.3 542.1,81.1 541.2,84.6 539.5,86.7 536.0,88.4 532.5,90.2 529.8,91.2 529.0,89.8 532.5,88.1 536.0,86.3 538.6,83.7 539.5,80.7ZM528.4,91.2 530.2,91.6 529.8,93.7 528.4,93.3ZM532.5,90.7 534.7,90.5 534.7,91.8 532.6,91.9Z"/>
<path id="wTW" d="M519.7,100.0 520.7,100.7 520.2,103.0 519.3,102.1Z"/>
<path id="wID" d="M523.2,138.8 525.1,138.2 525.9,139.7 524.1,140.6ZM528.8,133.2 531.0,132.7 531.7,134.1 529.5,135.0ZM532.0,138.8 533.8,138.2 534.3,139.7 532.6,140.3ZM526.6,143.2 528.8,142.9 529.1,144.1 526.9,144.3ZM530.5,141.4 532.0,141.1 532.3,142.3 530.8,142.6ZM494.5,125.7 496.7,126.4 498.9,129.3 501.1,133.0 503.2,136.6 505.4,139.5 504.7,141.0 502.2,138.8 499.6,135.6 497.4,132.2 495.5,128.9ZM505.4,141.0 509.1,141.7 513.5,142.9 517.1,143.9 516.8,144.9 512.7,144.3 508.4,143.2 505.7,142.4ZM508.4,130.8 510.6,127.8 513.5,125.4 516.0,123.9 517.9,124.9 518.3,127.8 517.4,130.8 516.4,133.2 514.9,135.6 512.7,136.6 510.1,136.2 508.4,134.1ZM518.6,132.2 520.8,131.5 522.2,132.7 520.8,134.1 521.5,136.6 520.0,138.8 518.9,136.6 519.3,134.4ZM535.4,135.9 537.5,134.7 540.2,135.9 540.2,143.2 537.5,141.7 535.4,139.5 533.9,138.1ZM518.6,144.3 521.5,144.6 524.4,144.3 524.7,145.4 521.5,145.8 518.9,145.5ZM525.9,133.2 527.6,132.7 528.2,134.7 526.8,135.3ZM528.8,137.3 531.4,137.0 531.7,138.2 529.1,138.5Z"/>
<path id="wAU" d="M512.7,162.2 514.9,159.2 518.6,157.0 521.5,154.8 523.7,151.9 526.6,150.5 528.8,148.3 531.7,146.8 535.4,148.3 536.8,151.2 538.3,154.1 540.2,152.7 541.2,147.6 542.2,146.1 543.4,149.7 544.9,153.4 547.0,157.0 549.2,160.7 551.4,165.1 552.1,169.4 550.7,174.6 549.2,178.9 547.0,181.9 544.1,182.6 541.2,181.1 539.0,178.9 536.8,176.8 535.4,175.3 533.2,174.6 529.5,173.8 525.9,174.6 522.2,176.0 518.6,177.5 515.7,177.5 514.2,174.6 513.5,170.2 512.5,165.8ZM543.4,185.2 546.3,184.8 547.0,187.0 545.1,188.7 543.7,187.3Z"/>
</defs>
<rect width="685" height="1375" fill="#fff"/>
<text class="t" x="54" y="13.2" textLength="83" lengthAdjust="spacingAndGlyphs">Footprints</text>
<text class="t" x="367.7" y="13.2" textLength="65" lengthAdjust="spacingAndGlyphs">Impacts</text>
<g transform="translate(0,0.0)">
<text class="t" transform="translate(13.7,201.0) rotate(-90)" textLength="130.9" lengthAdjust="spacingAndGlyphs">Biodiversity loss</text>
<g clip-path="url(#ce)">
<use href="#eg"/>
<use href="#eXK" fill="#fff" class="g" style="fill:#fff"/>
<use href="#eIE" class="c" fill="#f2f4f5"/>
<use href="#eSE" class="c" fill="#f4f6f6"/>
<use href="#eFI" class="c" fill="#fbfbfc"/>
<use href="#eEE" class="c" fill="#fdfdfd"/>
<use href="#eLV" class="c" fill="#fdfdfd"/>
<use href="#eLT" class="c" fill="#fbfbfc"/>
<use href="#ePL" class="c" fill="#d8dee0"/>
<use href="#eDE" class="c" fill="#657c85"/>
<use href="#eDK" class="c" fill="#e1e5e7"/>
<use href="#eNL" class="c" fill="#c9d1d4"/>
<use href="#eBE" class="c" fill="#dee3e5"/>
<use href="#eLU" class="c" fill="#f4f6f6"/>
<use href="#eFR" class="c" fill="#6e838c"/>
<use href="#eAT" class="c" fill="#ebeef0"/>
<use href="#eCZ" class="c" fill="#f0f2f3"/>
<use href="#eSK" class="c" fill="#f8f9fa"/>
<use href="#eHU" class="c" fill="#f6f8f8"/>
<use href="#eSI" class="c" fill="#f6f8f8"/>
<use href="#eHR" class="c" fill="#f4f6f6"/>
<use href="#eRO" class="c" fill="#e9ecee"/>
<use href="#eBG" class="c" fill="#f6f8f8"/>
<use href="#eGR" class="c" fill="#c9d1d4"/>
<use href="#eCY" class="c" fill="#fbfbfc"/>
<use href="#eIT" class="c" fill="#47626d"/>
<use href="#eES" class="c" fill="#264653"/>
<use href="#ePT" class="c" fill="#cdd4d7"/>
<use href="#eMT" class="c" fill="#fbfbfc"/>
</g>
<g>
<use href="#wUS" class="w" fill="#f0f2f3"/>
<use href="#wCA" class="w" fill="#fdfdfd"/>
<use href="#wMX" class="w" fill="#eef0f1"/>
<use href="#wWL" class="w" fill="#7d9098"/>
<use href="#wBR" class="w" fill="#d6dcde"/>
<use href="#wGF" class="w" fill="#92a2a9"/>
<use href="#wWF" class="w" fill="#80939a"/>
<use href="#wZA" class="w" fill="#f0f2f3"/>
<use href="#wLS" class="w" fill="#80939a"/>
<use href="#wWM" class="w" fill="#fbfbfc"/>
<use href="#wTR" class="w" fill="#eef0f1"/>
<use href="#wRU" class="w" fill="#ffffff"/>
<use href="#wWE" class="w" fill="#e1e5e7"/>
<use href="#wIS" class="w" fill="#ffffff"/>
<use href="#wNO" class="w" fill="#fdfdfd"/>
<use href="#wGB" class="w" fill="#fbfbfc"/>
<use href="#wCH" class="w" fill="#ffffff"/>
<use href="#wSE" class="w" fill="#fdfdfd"/>
<use href="#wFI" class="w" fill="#fdfdfd"/>
<use href="#wEE" class="w" fill="#f8f9fa"/>
<use href="#wLV" class="w" fill="#f8f9fa"/>
<use href="#wLT" class="w" fill="#f8f9fa"/>
<use href="#wPL" class="w" fill="#e5e9ea"/>
<use href="#wDE" class="w" fill="#ebeef0"/>
<use href="#wDK" class="w" fill="#f4f6f6"/>
<use href="#wNL" class="w" fill="#f6f8f8"/>
<use href="#wBE" class="w" fill="#f6f8f8"/>
<use href="#wIE" class="w" fill="#f6f8f8"/>
<use href="#wFR" class="w" fill="#aab7bc"/>
<use href="#wES" class="w" fill="#264653"/>
<use href="#wPT" class="w" fill="#e9ecee"/>
<use href="#wIT" class="w" fill="#81949b"/>
<use href="#wAT" class="w" fill="#f4f6f6"/>
<use href="#wCZ" class="w" fill="#f4f6f6"/>
<use href="#wSK" class="w" fill="#f8f9fa"/>
<use href="#wHU" class="w" fill="#eef0f1"/>
<use href="#wSI" class="w" fill="#f8f9fa"/>
<use href="#wHR" class="w" fill="#eef0f1"/>
<use href="#wRO" class="w" fill="#ebeef0"/>
<use href="#wBG" class="w" fill="#eef0f1"/>
<use href="#wGR" class="w" fill="#bec8cb"/>
<use href="#wCY" class="w" fill="#f8f9fa"/>
<use href="#wWA" class="w" fill="#d4dadd"/>
<use href="#wCN" class="w" fill="#fdfdfd"/>
<use href="#wIN" class="w" fill="#f0f2f3"/>
<use href="#wKR" class="w" fill="#ffffff"/>
<use href="#wJP" class="w" fill="#ffffff"/>
<use href="#wTW" class="w" fill="#ffffff"/>
<use href="#wID" class="w" fill="#cdd4d7"/>
<use href="#wAU" class="w" fill="#f4f6f6"/>
</g>
<rect x="219.2" y="212.0" width="361.7" height="18.0" fill="#fff" stroke="#1a1a1a" stroke-width="1.1"/>
<rect x="219.2" y="212.0" width="198.9" height="18.0" fill="#264653" stroke="#1a1a1a" stroke-width="1.1"/>
<text class="bt" x="318.7" y="225.4" text-anchor="middle" fill="#fff">Within EU: 55%</text>
<text class="bt" x="499.5" y="225.4" text-anchor="middle" fill="#111">Outside EU: 45%</text>
</g>
<linearGradient id="lg0" x1="0" y1="0" x2="0" y2="1"><stop offset="0" stop-color="#264653"/><stop offset="1" stop-color="#fff"/></linearGradient>
<rect x="614" y="71.0" width="21.2" height="104.0" fill="url(#lg0)"/>
<text class="lt" x="615" y="63.7" textLength="30.5" lengthAdjust="spacingAndGlyphs">PDF</text>
<path d="M614,76.5h4.4M630.8,76.5h4.4" stroke="#fff" stroke-width=".7" opacity=".85"/>
<text class="tk" x="642.7" y="79.8" textLength="39.5" lengthAdjust="spacingAndGlyphs">0.025</text>
<path d="M614,96.6h4.4M630.8,96.6h4.4" stroke="#fff" stroke-width=".7" opacity=".85"/>
<text class="tk" x="642.7" y="99.9" textLength="39.5" lengthAdjust="spacingAndGlyphs">0.020</text>
<path d="M614,115.7h4.4M630.8,115.7h4.4" stroke="#fff" stroke-width=".7" opacity=".85"/>
<text class="tk" x="642.7" y="119.0" textLength="39.5" lengthAdjust="spacingAndGlyphs">0.015</text>
<path d="M614,135.4h4.4M630.8,135.4h4.4" stroke="#fff" stroke-width=".7" opacity=".85"/>
<text class="tk" x="642.7" y="138.7" textLength="39.5" lengthAdjust="spacingAndGlyphs">0.010</text>
<path d="M614,155.5h4.4M630.8,155.5h4.4" stroke="#fff" stroke-width=".7" opacity=".85"/>
<text class="tk" x="642.7" y="158.8" textLength="39.5" lengthAdjust="spacingAndGlyphs">0.005</text>
<path d="M614,175.2h4.4M630.8,175.2h4.4" stroke="#fff" stroke-width=".7" opacity=".85"/>
<text class="tk" x="642.7" y="178.5" textLength="8.8" lengthAdjust="spacingAndGlyphs">0</text>
<g transform="translate(0,229.1)">
<text class="t" transform="translate(17.0,150.1) rotate(-90)" textLength="72.1" lengthAdjust="spacingAndGlyphs">Land use</text>
<g clip-path="url(#ce)">
<use href="#eg"/>
<use href="#eXK" fill="#fff" class="g" style="fill:#fff"/>
<use href="#eIE" class="c" fill="#d9edeb"/>
<use href="#eSE" class="c" fill="#d7ecea"/>
<use href="#eFI" class="c" fill="#e1f1ef"/>
<use href="#eEE" class="c" fill="#f9fcfc"/>
<use href="#eLV" class="c" fill="#f9fcfc"/>
<use href="#eLT" class="c" fill="#f2f9f8"/>
<use href="#ePL" class="c" fill="#9fd3cd"/>
<use href="#eDE" class="c" fill="#2a9d8f"/>
<use href="#eDK" class="c" fill="#cee8e5"/>
<use href="#eNL" class="c" fill="#b0dbd6"/>
<use href="#eBE" class="c" fill="#cee8e5"/>
<use href="#eLU" class="c" fill="#fbfdfd"/>
<use href="#eFR" class="c" fill="#48ab9f"/>
<use href="#eAT" class="c" fill="#e1f1ef"/>
<use href="#eCZ" class="c" fill="#e5f3f2"/>
<use href="#eSK" class="c" fill="#f4faf9"/>
<use href="#eHU" class="c" fill="#ecf6f5"/>
<use href="#eSI" class="c" fill="#f6fbfb"/>
<use href="#eHR" class="c" fill="#f2f9f8"/>
<use href="#eRO" class="c" fill="#d7ecea"/>
<use href="#eBG" class="c" fill="#eef7f6"/>
<use href="#eGR" class="c" fill="#d9edeb"/>
<use href="#eCY" class="c" fill="#fbfdfd"/>
<use href="#eIT" class="c" fill="#5bb4a9"/>
<use href="#eES" class="c" fill="#5fb6ab"/>
<use href="#ePT" class="c" fill="#d9edeb"/>
<use href="#eMT" class="c" fill="#f9fcfc"/>
</g>
<g>
<use href="#wUS" class="w" fill="#d7ecea"/>
<use href="#wCA" class="w" fill="#f0f8f7"/>
<use href="#wMX" class="w" fill="#f4faf9"/>
<use href="#wWL" class="w" fill="#a6d6d0"/>
<use href="#wBR" class="w" fill="#e1f1ef"/>
<use href="#wGF" class="w" fill="#88c8c0"/>
<use href="#wWF" class="w" fill="#41a89b"/>
<use href="#wZA" class="w" fill="#ecf6f5"/>
<use href="#wLS" class="w" fill="#41a89b"/>
<use href="#wWM" class="w" fill="#eef7f6"/>
<use href="#wTR" class="w" fill="#f0f8f7"/>
<use href="#wRU" class="w" fill="#e5f3f2"/>
<use href="#wWE" class="w" fill="#bfe2dd"/>
<use href="#wIS" class="w" fill="#cae6e3"/>
<use href="#wNO" class="w" fill="#e1f1ef"/>
<use href="#wGB" class="w" fill="#e1f1ef"/>
<use href="#wCH" class="w" fill="#f4faf9"/>
<use href="#wSE" class="w" fill="#d7ecea"/>
<use href="#wFI" class="w" fill="#cee8e5"/>
<use href="#wEE" class="w" fill="#d4ebe9"/>
<use href="#wLV" class="w" fill="#d4ebe9"/>
<use href="#wLT" class="w" fill="#d0e9e6"/>
<use href="#wPL" class="w" fill="#b4ddd8"/>
<use href="#wDE" class="w" fill="#aedad4"/>
<use href="#wDK" class="w" fill="#cae6e3"/>
<use href="#wNL" class="w" fill="#dff0ee"/>
<use href="#wBE" class="w" fill="#e5f3f2"/>
<use href="#wIE" class="w" fill="#d4ebe9"/>
<use href="#wFR" class="w" fill="#88c8c0"/>
<use href="#wES" class="w" fill="#81c5bd"/>
<use href="#wPT" class="w" fill="#d4ebe9"/>
<use href="#wIT" class="w" fill="#a6d6d0"/>
<use href="#wAT" class="w" fill="#dff0ee"/>
<use href="#wCZ" class="w" fill="#d4ebe9"/>
<use href="#wSK" class="w" fill="#dff0ee"/>
<use href="#wHU" class="w" fill="#cae6e3"/>
<use href="#wSI" class="w" fill="#eef7f6"/>
<use href="#wHR" class="w" fill="#e5f3f2"/>
<use href="#wRO" class="w" fill="#c3e4e0"/>
<use href="#wBG" class="w" fill="#d4ebe9"/>
<use href="#wGR" class="w" fill="#d4ebe9"/>
<use href="#wCY" class="w" fill="#eaf5f4"/>
<use href="#wWA" class="w" fill="#aad8d2"/>
<use href="#wCN" class="w" fill="#f2f9f8"/>
<use href="#wIN" class="w" fill="#dff0ee"/>
<use href="#wKR" class="w" fill="#f9fcfc"/>
<use href="#wJP" class="w" fill="#f9fcfc"/>
<use href="#wTW" class="w" fill="#fbfdfd"/>
<use href="#wID" class="w" fill="#eaf5f4"/>
<use href="#wAU" class="w" fill="#e1f1ef"/>
</g>
<rect x="219.2" y="212.0" width="361.7" height="18.0" fill="#fff" stroke="#1a1a1a" stroke-width="1.1"/>
<rect x="219.2" y="212.0" width="198.9" height="18.0" fill="#2a9d8f" stroke="#1a1a1a" stroke-width="1.1"/>
<text class="bt" x="318.7" y="225.4" text-anchor="middle" fill="#fff">Within EU: 55%</text>
<text class="bt" x="499.5" y="225.4" text-anchor="middle" fill="#111">Outside EU: 45%</text>
</g>
<linearGradient id="lg1" x1="0" y1="0" x2="0" y2="1"><stop offset="0" stop-color="#2a9d8f"/><stop offset="1" stop-color="#fff"/></linearGradient>
<rect x="614" y="300.2" width="21.2" height="102.4" fill="url(#lg1)"/>
<text class="lt" x="615" y="292.6" textLength="33.0" lengthAdjust="spacingAndGlyphs">Mha</text>
<path d="M614,318.3h4.4M630.8,318.3h4.4" stroke="#fff" stroke-width=".7" opacity=".85"/>
<text class="tk" x="642.7" y="321.6" textLength="17.6" lengthAdjust="spacingAndGlyphs">30</text>
<path d="M614,346.3h4.4M630.8,346.3h4.4" stroke="#fff" stroke-width=".7" opacity=".85"/>
<text class="tk" x="642.7" y="349.6" textLength="17.6" lengthAdjust="spacingAndGlyphs">20</text>
<path d="M614,375.1h4.4M630.8,375.1h4.4" stroke="#fff" stroke-width=".7" opacity=".85"/>
<text class="tk" x="642.7" y="378.4" textLength="17.6" lengthAdjust="spacingAndGlyphs">10</text>
<path d="M614,404.0h4.4M630.8,404.0h4.4" stroke="#fff" stroke-width=".7" opacity=".85"/>
<text class="tk" x="642.7" y="407.3" textLength="8.8" lengthAdjust="spacingAndGlyphs">0</text>
<g transform="translate(0,458.2)">
<text class="t" transform="translate(13.7,148.1) rotate(-90)" textLength="68.6" lengthAdjust="spacingAndGlyphs">Nitrogen</text>
<g clip-path="url(#ce)">
<use href="#eg"/>
<use href="#eXK" fill="#fff" class="g" style="fill:#fff"/>
<use href="#eIE" class="c" fill="#fcf7ec"/>
<use href="#eSE" class="c" fill="#fdf9ef"/>
<use href="#eFI" class="c" fill="#fdfaf3"/>
<use href="#eEE" class="c" fill="#fefdfb"/>
<use href="#eLV" class="c" fill="#fefdfb"/>
<use href="#eLT" class="c" fill="#fefdfb"/>
<use href="#ePL" class="c" fill="#f4e2b4"/>
<use href="#eDE" class="c" fill="#e9c46a"/>
<use href="#eDK" class="c" fill="#fcf6e9"/>
<use href="#eNL" class="c" fill="#f8edd2"/>
<use href="#eBE" class="c" fill="#fbf4e4"/>
<use href="#eLU" class="c" fill="#fefdfb"/>
<use href="#eFR" class="c" fill="#f1d99e"/>
<use href="#eAT" class="c" fill="#fcf7ea"/>
<use href="#eCZ" class="c" fill="#fbf5e6"/>
<use href="#eSK" class="c" fill="#fefcf8"/>
<use href="#eHU" class="c" fill="#fdfaf3"/>
<use href="#eSI" class="c" fill="#fefdfb"/>
<use href="#eHR" class="c" fill="#fefdfb"/>
<use href="#eRO" class="c" fill="#fcf7ec"/>
<use href="#eBG" class="c" fill="#fefbf6"/>
<use href="#eGR" class="c" fill="#fdfaf3"/>
<use href="#eCY" class="c" fill="#fefdfb"/>
<use href="#eIT" class="c" fill="#f2ddaa"/>
<use href="#eES" class="c" fill="#f5e4bc"/>
<use href="#ePT" class="c" fill="#fdf9f0"/>
<use href="#eMT" class="c" fill="#fefdfb"/>
</g>
<g>
<use href="#wUS" class="w" fill="#fbf6e7"/>
<use href="#wCA" class="w" fill="#fefcf8"/>
<use href="#wMX" class="w" fill="#fefdfb"/>
<use href="#wWL" class="w" fill="#fcf7ea"/>
<use href="#wBR" class="w" fill="#fefcf8"/>
<use href="#wGF" class="w" fill="#f2dca6"/>
<use href="#wWF" class="w" fill="#fcf7ea"/>
<use href="#wZA" class="w" fill="#fdfaf3"/>
<use href="#wLS" class="w" fill="#fcf7ea"/>
<use href="#wWM" class="w" fill="#fdfaf3"/>
<use href="#wTR" class="w" fill="#fefdfb"/>
<use href="#wRU" class="w" fill="#fefcf8"/>
<use href="#wWE" class="w" fill="#f9eed4"/>
<use href="#wIS" class="w" fill="#f2dca6"/>
<use href="#wNO" class="w" fill="#fefcf8"/>
<use href="#wGB" class="w" fill="#fdfaf3"/>
<use href="#wCH" class="w" fill="#fefdfb"/>
<use href="#wSE" class="w" fill="#fcf8ed"/>
<use href="#wFI" class="w" fill="#fdf9f0"/>
<use href="#wEE" class="w" fill="#fefbf6"/>
<use href="#wLV" class="w" fill="#fdfaf3"/>
<use href="#wLT" class="w" fill="#fcf6e9"/>
<use href="#wPL" class="w" fill="#f5e3b9"/>
<use href="#wDE" class="w" fill="#f2dda9"/>
<use href="#wDK" class="w" fill="#f8edd2"/>
<use href="#wNL" class="w" fill="#f8edd2"/>
<use href="#wBE" class="w" fill="#faf0da"/>
<use href="#wIE" class="w" fill="#f8edd2"/>
<use href="#wFR" class="w" fill="#f1d9a0"/>
<use href="#wES" class="w" fill="#f8edd1"/>
<use href="#wPT" class="w" fill="#fdf9f0"/>
<use href="#wIT" class="w" fill="#f8edd2"/>
<use href="#wAT" class="w" fill="#fbf3e1"/>
<use href="#wCZ" class="w" fill="#faf0da"/>
<use href="#wSK" class="w" fill="#fcf8ed"/>
<use href="#wHU" class="w" fill="#fbf3e1"/>
<use href="#wSI" class="w" fill="#fefbf6"/>
<use href="#wHR" class="w" fill="#fdfaf3"/>
<use href="#wRO" class="w" fill="#fbf3e1"/>
<use href="#wBG" class="w" fill="#fcf8ed"/>
<use href="#wGR" class="w" fill="#fdf9f0"/>
<use href="#wCY" class="w" fill="#fefbf6"/>
<use href="#wWA" class="w" fill="#faf1db"/>
<use href="#wCN" class="w" fill="#fdfbf5"/>
<use href="#wIN" class="w" fill="#fcf8ed"/>
<use href="#wKR" class="w" fill="#fffefc"/>
<use href="#wJP" class="w" fill="#fffefc"/>
<use href="#wTW" class="w" fill="#fffefc"/>
<use href="#wID" class="w" fill="#fefcf8"/>
<use href="#wAU" class="w" fill="#fefdfb"/>
</g>
<rect x="219.2" y="212.0" width="361.7" height="18.0" fill="#fff" stroke="#1a1a1a" stroke-width="1.1"/>
<rect x="219.2" y="212.0" width="264.0" height="18.0" fill="#e9c46a" stroke="#1a1a1a" stroke-width="1.1"/>
<text class="bt" x="351.2" y="225.4" text-anchor="middle" fill="#fff">Within EU: 73%</text>
<text class="bt" x="532.1" y="225.4" text-anchor="middle" fill="#111">Outside EU: 27%</text>
</g>
<linearGradient id="lg2" x1="0" y1="0" x2="0" y2="1"><stop offset="0" stop-color="#e9c46a"/><stop offset="1" stop-color="#fff"/></linearGradient>
<rect x="614" y="529.5" width="21.2" height="102.7" fill="url(#lg2)"/>
<text class="lt" x="615" y="521.2" textLength="20.1" lengthAdjust="spacingAndGlyphs">Mt</text>
<path d="M614,550.3h4.4M630.8,550.3h4.4" stroke="#fff" stroke-width=".7" opacity=".85"/>
<text class="tk" x="642.7" y="553.6" textLength="22.0" lengthAdjust="spacingAndGlyphs">0.6</text>
<path d="M614,577.7h4.4M630.8,577.7h4.4" stroke="#fff" stroke-width=".7" opacity=".85"/>
<text class="tk" x="642.7" y="581.0" textLength="22.0" lengthAdjust="spacingAndGlyphs">0.4</text>
<path d="M614,605.1h4.4M630.8,605.1h4.4" stroke="#fff" stroke-width=".7" opacity=".85"/>
<text class="tk" x="642.7" y="608.4" textLength="22.0" lengthAdjust="spacingAndGlyphs">0.2</text>
<path d="M614,633.6h4.4M630.8,633.6h4.4" stroke="#fff" stroke-width=".7" opacity=".85"/>
<text class="tk" x="642.7" y="636.9" textLength="8.8" lengthAdjust="spacingAndGlyphs">0</text>
<g transform="translate(0,687.3)">
<text class="t" transform="translate(13.7,161.9) rotate(-90)" textLength="95.0" lengthAdjust="spacingAndGlyphs">Phosphorus</text>
<g clip-path="url(#ce)">
<use href="#eg"/>
<use href="#eXK" fill="#fff" class="g" style="fill:#fff"/>
<use href="#eIE" class="c" fill="#fdecdf"/>
<use href="#eSE" class="c" fill="#fef4ec"/>
<use href="#eFI" class="c" fill="#fef7f1"/>
<use href="#eEE" class="c" fill="#fffcfa"/>
<use href="#eLV" class="c" fill="#fffcfa"/>
<use href="#eLT" class="c" fill="#fffcfa"/>
<use href="#ePL" class="c" fill="#fad5b8"/>
<use href="#eDE" class="c" fill="#f4a261"/>
<use href="#eDK" class="c" fill="#fdecdf"/>
<use href="#eNL" class="c" fill="#fbe1cc"/>
<use href="#eBE" class="c" fill="#fce9d9"/>
<use href="#eLU" class="c" fill="#fffcfa"/>
<use href="#eFR" class="c" fill="#f7bc8d"/>
<use href="#eAT" class="c" fill="#fdf1e7"/>
<use href="#eCZ" class="c" fill="#fef5ee"/>
<use href="#eSK" class="c" fill="#fffbf9"/>
<use href="#eHU" class="c" fill="#fef8f4"/>
<use href="#eSI" class="c" fill="#fffcfa"/>
<use href="#eHR" class="c" fill="#fffbf9"/>
<use href="#eRO" class="c" fill="#fef5ee"/>
<use href="#eBG" class="c" fill="#fefaf7"/>
<use href="#eGR" class="c" fill="#fef8f2"/>
<use href="#eCY" class="c" fill="#fffcfa"/>
<use href="#eIT" class="c" fill="#f8c094"/>
<use href="#eES" class="c" fill="#fad2b3"/>
<use href="#ePT" class="c" fill="#fdf1e7"/>
<use href="#eMT" class="c" fill="#fffcfa"/>
</g>
<g>
<use href="#wUS" class="w" fill="#fef6ef"/>
<use href="#wCA" class="w" fill="#fffbf9"/>
<use href="#wMX" class="w" fill="#fffcfa"/>
<use href="#wWL" class="w" fill="#f8c7a0"/>
<use href="#wBR" class="w" fill="#fce4d1"/>
<use href="#wGF" class="w" fill="#f7be90"/>
<use href="#wWF" class="w" fill="#fce6d4"/>
<use href="#wZA" class="w" fill="#fdf1e7"/>
<use href="#wLS" class="w" fill="#fce6d4"/>
<use href="#wWM" class="w" fill="#fefaf7"/>
<use href="#wTR" class="w" fill="#fffdfc"/>
<use href="#wRU" class="w" fill="#fffbf9"/>
<use href="#wWE" class="w" fill="#fce8d8"/>
<use href="#wIS" class="w" fill="#fdecdf"/>
<use href="#wNO" class="w" fill="#fffbf9"/>
<use href="#wGB" class="w" fill="#fef8f4"/>
<use href="#wCH" class="w" fill="#fffcfa"/>
<use href="#wSE" class="w" fill="#fef5ee"/>
<use href="#wFI" class="w" fill="#fef3ea"/>
<use href="#wEE" class="w" fill="#fef9f6"/>
<use href="#wLV" class="w" fill="#fef8f2"/>
<use href="#wLT" class="w" fill="#fef4ec"/>
<use href="#wPL" class="w" fill="#f9d0ae"/>
<use href="#wDE" class="w" fill="#fbdac0"/>
<use href="#wDK" class="w" fill="#fce3d0"/>
<use href="#wNL" class="w" fill="#fce8d8"/>
<use href="#wBE" class="w" fill="#fdecdf"/>
<use href="#wIE" class="w" fill="#f9cdaa"/>
<use href="#wFR" class="w" fill="#f7bd8f"/>
<use href="#wES" class="w" fill="#fbe0cb"/>
<use href="#wPT" class="w" fill="#fef6ef"/>
<use href="#wIT" class="w" fill="#fce2ce"/>
<use href="#wAT" class="w" fill="#fef4ec"/>
<use href="#wCZ" class="w" fill="#fdf1e7"/>
<use href="#wSK" class="w" fill="#fef8f2"/>
<use href="#wHU" class="w" fill="#fdf2e9"/>
<use href="#wSI" class="w" fill="#fefaf7"/>
<use href="#wHR" class="w" fill="#fef9f6"/>
<use href="#wRO" class="w" fill="#fdf0e6"/>
<use href="#wBG" class="w" fill="#fef6ef"/>
<use href="#wGR" class="w" fill="#fef8f2"/>
<use href="#wCY" class="w" fill="#fefaf7"/>
<use href="#wWA" class="w" fill="#fbe1cc"/>
<use href="#wCN" class="w" fill="#fef7f1"/>
<use href="#wIN" class="w" fill="#fdecdf"/>
<use href="#wKR" class="w" fill="#fffdfc"/>
<use href="#wJP" class="w" fill="#fffdfc"/>
<use href="#wTW" class="w" fill="#fffdfc"/>
<use href="#wID" class="w" fill="#fef6ef"/>
<use href="#wAU" class="w" fill="#fffcfa"/>
</g>
<rect x="219.2" y="212.0" width="361.7" height="18.0" fill="#fff" stroke="#1a1a1a" stroke-width="1.1"/>
<rect x="219.2" y="212.0" width="213.4" height="18.0" fill="#f4a261" stroke="#1a1a1a" stroke-width="1.1"/>
<text class="bt" x="325.9" y="225.4" text-anchor="middle" fill="#fff">Within EU: 59%</text>
<text class="bt" x="506.8" y="225.4" text-anchor="middle" fill="#111">Outside EU: 41%</text>
</g>
<linearGradient id="lg3" x1="0" y1="0" x2="0" y2="1"><stop offset="0" stop-color="#f4a261"/><stop offset="1" stop-color="#fff"/></linearGradient>
<rect x="614" y="758.1" width="21.2" height="103.6" fill="url(#lg3)"/>
<text class="lt" x="615" y="751.2" textLength="20.1" lengthAdjust="spacingAndGlyphs">Mt</text>
<path d="M614,761.2h4.4M630.8,761.2h4.4" stroke="#fff" stroke-width=".7" opacity=".85"/>
<text class="tk" x="642.7" y="764.5" textLength="30.7" lengthAdjust="spacingAndGlyphs">0.20</text>
<path d="M614,786.6h4.4M630.8,786.6h4.4" stroke="#fff" stroke-width=".7" opacity=".85"/>
<text class="tk" x="642.7" y="789.9" textLength="30.7" lengthAdjust="spacingAndGlyphs">0.15</text>
<path d="M614,811.5h4.4M630.8,811.5h4.4" stroke="#fff" stroke-width=".7" opacity=".85"/>
<text class="tk" x="642.7" y="814.8" textLength="30.7" lengthAdjust="spacingAndGlyphs">0.10</text>
<path d="M614,836.5h4.4M630.8,836.5h4.4" stroke="#fff" stroke-width=".7" opacity=".85"/>
<text class="tk" x="642.7" y="839.8" textLength="30.7" lengthAdjust="spacingAndGlyphs">0.05</text>
<path d="M614,862.9h4.4M630.8,862.9h4.4" stroke="#fff" stroke-width=".7" opacity=".85"/>
<text class="tk" x="642.7" y="866.2" textLength="8.8" lengthAdjust="spacingAndGlyphs">0</text>
<g transform="translate(0,916.4)">
<text class="t" transform="translate(17.0,175.4) rotate(-90)" textLength="122.2" lengthAdjust="spacingAndGlyphs">GHG emissions</text>
<g clip-path="url(#ce)">
<use href="#eg"/>
<use href="#eXK" fill="#fff" class="g" style="fill:#fff"/>
<use href="#eIE" class="c" fill="#f2dedf"/>
<use href="#eSE" class="c" fill="#f4e3e4"/>
<use href="#eFI" class="c" fill="#f8eced"/>
<use href="#eEE" class="c" fill="#fdfafa"/>
<use href="#eLV" class="c" fill="#fdfafa"/>
<use href="#eLT" class="c" fill="#fbf6f6"/>
<use href="#ePL" class="c" fill="#d59496"/>
<use href="#eDE" class="c" fill="#a4161a"/>
<use href="#eDK" class="c" fill="#f3e1e1"/>
<use href="#eNL" class="c" fill="#edd0d1"/>
<use href="#eBE" class="c" fill="#eac9ca"/>
<use href="#eLU" class="c" fill="#fcf8f8"/>
<use href="#eFR" class="c" fill="#c16163"/>
<use href="#eAT" class="c" fill="#f3e1e1"/>
<use href="#eCZ" class="c" fill="#f0dada"/>
<use href="#eSK" class="c" fill="#faf1f1"/>
<use href="#eHU" class="c" fill="#f9efef"/>
<use href="#eSI" class="c" fill="#fcf8f8"/>
<use href="#eHR" class="c" fill="#faf3f4"/>
<use href="#eRO" class="c" fill="#f2dedf"/>
<use href="#eBG" class="c" fill="#f9efef"/>
<use href="#eGR" class="c" fill="#f3e1e1"/>
<use href="#eCY" class="c" fill="#fcf8f8"/>
<use href="#eIT" class="c" fill="#c16163"/>
<use href="#eES" class="c" fill="#dba2a3"/>
<use href="#ePT" class="c" fill="#f6e8e8"/>
<use href="#eMT" class="c" fill="#fcf8f8"/>
</g>
<g>
<use href="#wUS" class="w" fill="#f6e8e8"/>
<use href="#wCA" class="w" fill="#fcf8f8"/>
<use href="#wMX" class="w" fill="#fdfafa"/>
<use href="#wWL" class="w" fill="#eccecf"/>
<use href="#wBR" class="w" fill="#f8eced"/>
<use href="#wGF" class="w" fill="#c87376"/>
<use href="#wWF" class="w" fill="#e8c5c6"/>
<use href="#wZA" class="w" fill="#f2dedf"/>
<use href="#wLS" class="w" fill="#e8c5c6"/>
<use href="#wWM" class="w" fill="#f6e8e8"/>
<use href="#wTR" class="w" fill="#f9efef"/>
<use href="#wRU" class="w" fill="#f2dedf"/>
<use href="#wWE" class="w" fill="#f5e5e6"/>
<use href="#wIS" class="w" fill="#faf3f4"/>
<use href="#wNO" class="w" fill="#faf3f4"/>
<use href="#wGB" class="w" fill="#efd5d6"/>
<use href="#wCH" class="w" fill="#fcf8f8"/>
<use href="#wSE" class="w" fill="#f8eced"/>
<use href="#wFI" class="w" fill="#f6e8e8"/>
<use href="#wEE" class="w" fill="#faf3f4"/>
<use href="#wLV" class="w" fill="#faf3f4"/>
<use href="#wLT" class="w" fill="#f8eced"/>
<use href="#wPL" class="w" fill="#d99d9f"/>
<use href="#wDE" class="w" fill="#c36568"/>
<use href="#wDK" class="w" fill="#f1dcdd"/>
<use href="#wNL" class="w" fill="#e4b9ba"/>
<use href="#wBE" class="w" fill="#e8c5c6"/>
<use href="#wIE" class="w" fill="#f1dcdd"/>
<use href="#wFR" class="w" fill="#c87376"/>
<use href="#wES" class="w" fill="#e2b4b6"/>
<use href="#wPT" class="w" fill="#f6e8e8"/>
<use href="#wIT" class="w" fill="#ce8183"/>
<use href="#wAT" class="w" fill="#f1dcdd"/>
<use href="#wCZ" class="w" fill="#edd0d1"/>
<use href="#wSK" class="w" fill="#f6e8e8"/>
<use href="#wHU" class="w" fill="#f4e3e4"/>
<use href="#wSI" class="w" fill="#faf1f1"/>
<use href="#wHR" class="w" fill="#f8eced"/>
<use href="#wRO" class="w" fill="#f1dcdd"/>
<use href="#wBG" class="w" fill="#f6e8e8"/>
<use href="#wGR" class="w" fill="#f4e3e4"/>
<use href="#wCY" class="w" fill="#faf3f4"/>
<use href="#wWA" class="w" fill="#e4b9ba"/>
<use href="#wCN" class="w" fill="#f8eced"/>
<use href="#wIN" class="w" fill="#faf3f4"/>
<use href="#wKR" class="w" fill="#fefdfd"/>
<use href="#wJP" class="w" fill="#fefdfd"/>
<use href="#wTW" class="w" fill="#fefdfd"/>
<use href="#wID" class="w" fill="#fefdfd"/>
<use href="#wAU" class="w" fill="#fdfafa"/>
</g>
<rect x="219.2" y="212.0" width="361.7" height="18.0" fill="#fff" stroke="#1a1a1a" stroke-width="1.1"/>
<rect x="219.2" y="212.0" width="249.6" height="18.0" fill="#a4161a" stroke="#1a1a1a" stroke-width="1.1"/>
<text class="bt" x="344.0" y="225.4" text-anchor="middle" fill="#fff">Within EU: 69%</text>
<text class="bt" x="524.8" y="225.4" text-anchor="middle" fill="#111">Outside EU: 31%</text>
</g>
<linearGradient id="lg4" x1="0" y1="0" x2="0" y2="1"><stop offset="0" stop-color="#a4161a"/><stop offset="1" stop-color="#fff"/></linearGradient>
<rect x="614" y="987.4" width="21.2" height="102.1" fill="url(#lg4)"/>
<text class="lt" x="615" y="979.8" textLength="20.1" lengthAdjust="spacingAndGlyphs">Mt</text>
<path d="M614,1013.5h4.4M630.8,1013.5h4.4" stroke="#fff" stroke-width=".7" opacity=".85"/>
<text class="tk" x="642.7" y="1016.8" textLength="17.6" lengthAdjust="spacingAndGlyphs">90</text>
<path d="M614,1039.5h4.4M630.8,1039.5h4.4" stroke="#fff" stroke-width=".7" opacity=".85"/>
<text class="tk" x="642.7" y="1042.8" textLength="17.6" lengthAdjust="spacingAndGlyphs">60</text>
<path d="M614,1065.1h4.4M630.8,1065.1h4.4" stroke="#fff" stroke-width=".7" opacity=".85"/>
<text class="tk" x="642.7" y="1068.4" textLength="17.6" lengthAdjust="spacingAndGlyphs">30</text>
<path d="M614,1091.4h4.4M630.8,1091.4h4.4" stroke="#fff" stroke-width=".7" opacity=".85"/>
<text class="tk" x="642.7" y="1094.7" textLength="8.8" lengthAdjust="spacingAndGlyphs">0</text>
<g transform="translate(0,1145.5)">
<text class="t" transform="translate(17.0,137.3) rotate(-90)" textLength="47.0" lengthAdjust="spacingAndGlyphs">Water</text>
<g clip-path="url(#ce)">
<use href="#eg"/>
<use href="#eXK" fill="#fff" class="g" style="fill:#fff"/>
<use href="#eIE" class="c" fill="#f0f4f7"/>
<use href="#eSE" class="c" fill="#f0f4f7"/>
<use href="#eFI" class="c" fill="#f6f8fa"/>
<use href="#eEE" class="c" fill="#f9fbfc"/>
<use href="#eLV" class="c" fill="#f9fbfc"/>
<use href="#eLT" class="c" fill="#f9fbfc"/>
<use href="#ePL" class="c" fill="#d2dfe7"/>
<use href="#eDE" class="c" fill="#5f8dab"/>
<use href="#eDK" class="c" fill="#e9eff3"/>
<use href="#eNL" class="c" fill="#cddbe5"/>
<use href="#eBE" class="c" fill="#d8e3ea"/>
<use href="#eLU" class="c" fill="#f9fbfc"/>
<use href="#eFR" class="c" fill="#91b1c5"/>
<use href="#eAT" class="c" fill="#eef3f6"/>
<use href="#eCZ" class="c" fill="#f2f6f8"/>
<use href="#eSK" class="c" fill="#f9fbfc"/>
<use href="#eHU" class="c" fill="#f6f8fa"/>
<use href="#eSI" class="c" fill="#f9fbfc"/>
<use href="#eHR" class="c" fill="#f9fbfc"/>
<use href="#eRO" class="c" fill="#eef3f6"/>
<use href="#eBG" class="c" fill="#f0f4f7"/>
<use href="#eGR" class="c" fill="#d8e3ea"/>
<use href="#eCY" class="c" fill="#f9fbfc"/>
<use href="#eIT" class="c" fill="#88abc0"/>
<use href="#eES" class="c" fill="#618fac"/>
<use href="#ePT" class="c" fill="#e1eaef"/>
<use href="#eMT" class="c" fill="#f9fbfc"/>
</g>
<g>
<use href="#wUS" class="w" fill="#dee7ed"/>
<use href="#wCA" class="w" fill="#fdfefe"/>
<use href="#wMX" class="w" fill="#f8fafb"/>
<use href="#wWL" class="w" fill="#e5edf1"/>
<use href="#wBR" class="w" fill="#fbfcfd"/>
<use href="#wGF" class="w" fill="#dce6ec"/>
<use href="#wWF" class="w" fill="#c3d5e0"/>
<use href="#wZA" class="w" fill="#d8e3ea"/>
<use href="#wLS" class="w" fill="#c3d5e0"/>
<use href="#wWM" class="w" fill="#749cb6"/>
<use href="#wTR" class="w" fill="#dee7ed"/>
<use href="#wRU" class="w" fill="#fbfcfd"/>
<use href="#wWE" class="w" fill="#f2f6f8"/>
<use href="#wIS" class="w" fill="#fbfcfd"/>
<use href="#wNO" class="w" fill="#fdfefe"/>
<use href="#wGB" class="w" fill="#fbfcfd"/>
<use href="#wCH" class="w" fill="#fbfcfd"/>
<use href="#wSE" class="w" fill="#f8fafb"/>
<use href="#wFI" class="w" fill="#f8fafb"/>
<use href="#wEE" class="w" fill="#f8fafb"/>
<use href="#wLV" class="w" fill="#f8fafb"/>
<use href="#wLT" class="w" fill="#f8fafb"/>
<use href="#wPL" class="w" fill="#dee7ed"/>
<use href="#wDE" class="w" fill="#ecf2f5"/>
<use href="#wDK" class="w" fill="#f8fafb"/>
<use href="#wNL" class="w" fill="#f6f8fa"/>
<use href="#wBE" class="w" fill="#f6f8fa"/>
<use href="#wIE" class="w" fill="#f8fafb"/>
<use href="#wFR" class="w" fill="#dce6ec"/>
<use href="#wES" class="w" fill="#457b9d"/>
<use href="#wPT" class="w" fill="#d2dfe7"/>
<use href="#wIT" class="w" fill="#afc6d5"/>
<use href="#wAT" class="w" fill="#f8fafb"/>
<use href="#wCZ" class="w" fill="#f8fafb"/>
<use href="#wSK" class="w" fill="#f8fafb"/>
<use href="#wHU" class="w" fill="#f0f4f7"/>
<use href="#wSI" class="w" fill="#f8fafb"/>
<use href="#wHR" class="w" fill="#f8fafb"/>
<use href="#wRO" class="w" fill="#ecf2f5"/>
<use href="#wBG" class="w" fill="#ecf2f5"/>
<use href="#wGR" class="w" fill="#b8cdda"/>
<use href="#wCY" class="w" fill="#dae5eb"/>
<use href="#wWA" class="w" fill="#6693af"/>
<use href="#wCN" class="w" fill="#f6f8fa"/>
<use href="#wIN" class="w" fill="#d8e3ea"/>
<use href="#wKR" class="w" fill="#fbfcfd"/>
<use href="#wJP" class="w" fill="#fbfcfd"/>
<use href="#wTW" class="w" fill="#fbfcfd"/>
<use href="#wID" class="w" fill="#fbfcfd"/>
<use href="#wAU" class="w" fill="#fbfcfd"/>
</g>
<rect x="219.2" y="212.0" width="361.7" height="18.0" fill="#fff" stroke="#1a1a1a" stroke-width="1.1"/>
<rect x="219.2" y="212.0" width="162.8" height="18.0" fill="#457b9d" stroke="#1a1a1a" stroke-width="1.1"/>
<text class="bt" x="300.6" y="225.4" text-anchor="middle" fill="#fff">Within EU: 45%</text>
<text class="bt" x="481.4" y="225.4" text-anchor="middle" fill="#111">Outside EU: 55%</text>
</g>
<linearGradient id="lg5" x1="0" y1="0" x2="0" y2="1"><stop offset="0" stop-color="#457b9d"/><stop offset="1" stop-color="#fff"/></linearGradient>
<rect x="614" y="1216.6" width="21.2" height="101.9" fill="url(#lg5)"/>
<text class="lt" x="615" y="1208.3" textLength="29.4" lengthAdjust="spacingAndGlyphs">Mm</text>
<text x="645.3" y="1200.7" font-size="11.5" fill="#111">3</text>
<path d="M614,1242.7h4.4M630.8,1242.7h4.4" stroke="#fff" stroke-width=".7" opacity=".85"/>
<text class="tk" x="642.7" y="1246.0" textLength="44.8" lengthAdjust="spacingAndGlyphs">9,000</text>
<path d="M614,1268.3h4.4M630.8,1268.3h4.4" stroke="#fff" stroke-width=".7" opacity=".85"/>
<text class="tk" x="642.7" y="1271.6" textLength="44.8" lengthAdjust="spacingAndGlyphs">6,000</text>
<path d="M614,1294.0h4.4M630.8,1294.0h4.4" stroke="#fff" stroke-width=".7" opacity=".85"/>
<text class="tk" x="642.7" y="1297.3" textLength="44.8" lengthAdjust="spacingAndGlyphs">3,000</text>
<path d="M614,1320.6h4.4M630.8,1320.6h4.4" stroke="#fff" stroke-width=".7" opacity=".85"/>
<text class="tk" x="642.7" y="1323.9" textLength="8.8" lengthAdjust="spacingAndGlyphs">0</text>
</svg></body></html>
